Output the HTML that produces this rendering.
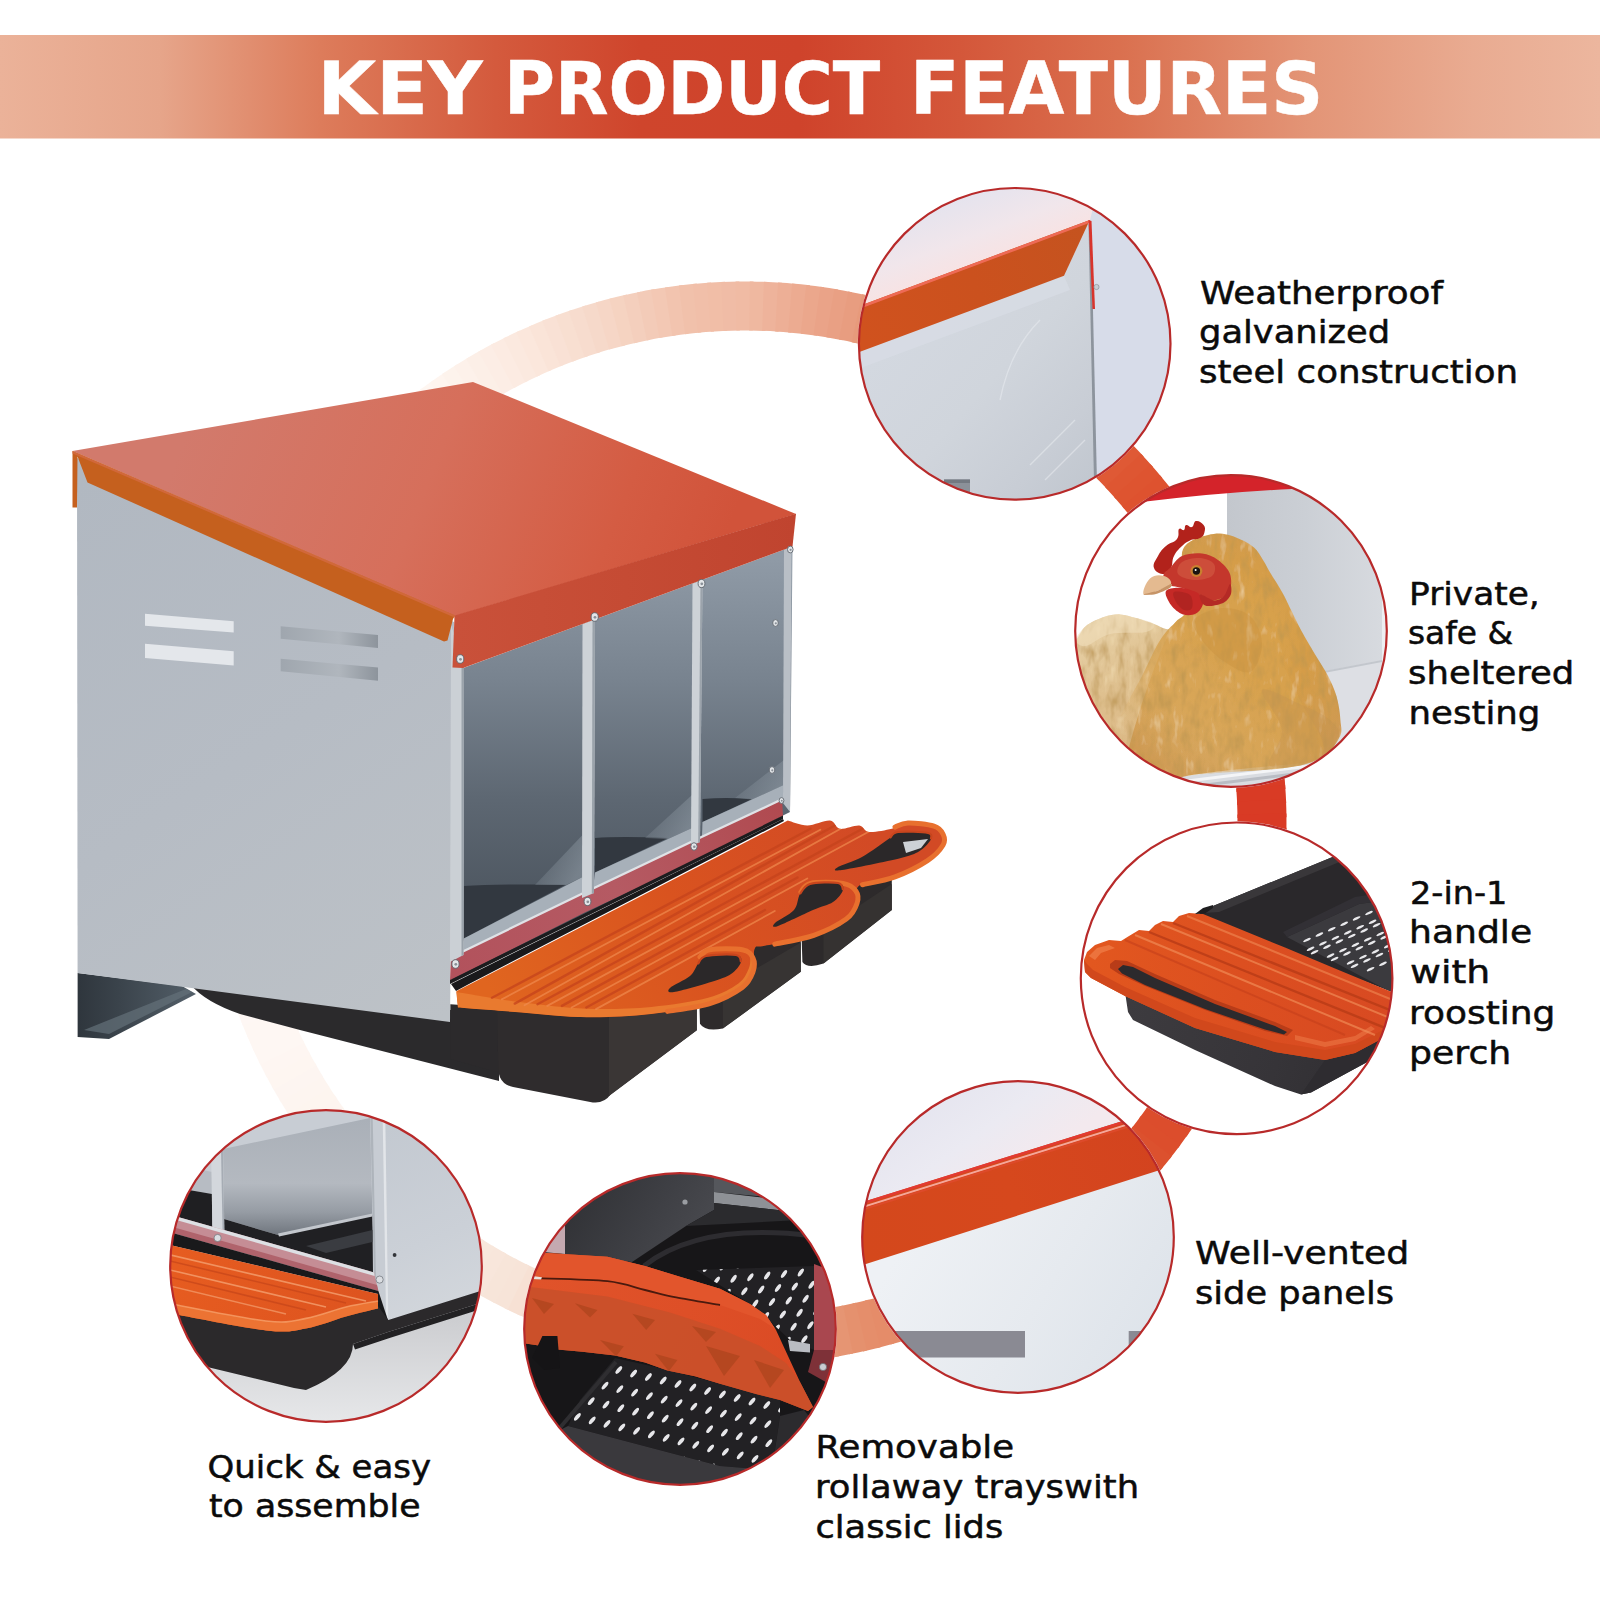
<!DOCTYPE html>
<html lang="en"><head><meta charset="utf-8"><title>Key Product Features</title>
<style>
html,body{margin:0;padding:0;background:#fff;}
body{width:1600px;height:1600px;overflow:hidden;font-family:"Liberation Sans",sans-serif;}
svg{display:block;}
.t{font-family:"Liberation Sans",sans-serif;fill:#0a0a0a;}
</style></head><body>
<svg width="1600" height="1600" viewBox="0 0 1600 1600">
<!-- 00_defs_banner.svg -->
<defs>
  <linearGradient id="gBanner" x1="0" y1="0" x2="1600" y2="0" gradientUnits="userSpaceOnUse">
    <stop offset="0" stop-color="#ebb299"/>
    <stop offset="0.1" stop-color="#e6a58a"/>
    <stop offset="0.2" stop-color="#dd7c5b"/>
    <stop offset="0.31" stop-color="#d45a3d"/>
    <stop offset="0.4" stop-color="#cf452c"/>
    <stop offset="0.5" stop-color="#cf432b"/>
    <stop offset="0.6" stop-color="#d4573a"/>
    <stop offset="0.7" stop-color="#da704f"/>
    <stop offset="0.82" stop-color="#e39577"/>
    <stop offset="0.92" stop-color="#e9ab91"/>
    <stop offset="1" stop-color="#ecb69e"/>
  </linearGradient>
</defs>
<rect x="0" y="0" width="1600" height="1600" fill="#ffffff"/>
<rect x="0" y="35" width="1600" height="103.5" fill="url(#gBanner)"/>
<g font-family="'DejaVu Sans','Liberation Sans',sans-serif" font-weight="bold" font-size="72.5" fill="#ffffff" stroke="#ffffff" stroke-width="0.5" stroke-linejoin="round">
  <text><tspan x="317.5" y="113.8" textLength="165.2" lengthAdjust="spacingAndGlyphs">KEY</tspan> <tspan x="504.0" y="113.8" textLength="376.1" lengthAdjust="spacingAndGlyphs">PRODUCT</tspan> <tspan x="910.0" y="113.8" textLength="413.3" lengthAdjust="spacingAndGlyphs">FEATURES</tspan></text>
</g>

<!-- 10_ring.svg -->
<g id="ring" fill="none" stroke-width="49">
<path d="M412.7,427.0 A517,517 0 0 1 426.0,416.2" stroke="#fff9f6"/>
<path d="M423.2,418.4 A517,517 0 0 1 436.8,407.9" stroke="#fef8f3"/>
<path d="M433.9,410.1 A517,517 0 0 1 447.7,400.0" stroke="#fef6f1"/>
<path d="M444.8,402.1 A517,517 0 0 1 458.9,392.4" stroke="#fef5ef"/>
<path d="M455.9,394.4 A517,517 0 0 1 470.3,385.0" stroke="#fdf3ec"/>
<path d="M467.2,387.0 A517,517 0 0 1 481.8,378.0" stroke="#fdf1ea"/>
<path d="M478.7,379.8 A517,517 0 0 1 493.6,371.3" stroke="#fcefe7"/>
<path d="M490.4,373.0 A517,517 0 0 1 505.5,364.8" stroke="#fcede5"/>
<path d="M502.3,366.5 A517,517 0 0 1 517.6,358.7" stroke="#fcebe2"/>
<path d="M514.3,360.3 A517,517 0 0 1 529.8,352.9" stroke="#fbe9df"/>
<path d="M526.5,354.4 A517,517 0 0 1 542.2,347.5" stroke="#fbe7dc"/>
<path d="M538.8,348.9 A517,517 0 0 1 554.7,342.3" stroke="#fae4d8"/>
<path d="M551.3,343.6 A517,517 0 0 1 567.3,337.5" stroke="#f9e1d5"/>
<path d="M563.9,338.7 A517,517 0 0 1 580.1,333.0" stroke="#f8dfd1"/>
<path d="M576.7,334.2 A517,517 0 0 1 593.0,328.9" stroke="#f7dcce"/>
<path d="M589.5,329.9 A517,517 0 0 1 606.0,325.0" stroke="#f6d9ca"/>
<path d="M602.5,326.0 A517,517 0 0 1 619.1,321.6" stroke="#f6d6c6"/>
<path d="M615.6,322.5 A517,517 0 0 1 632.2,318.5" stroke="#f5d3c1"/>
<path d="M628.7,319.3 A517,517 0 0 1 645.5,315.7" stroke="#f4cfbd"/>
<path d="M641.9,316.4 A517,517 0 0 1 658.8,313.2" stroke="#f3cbb8"/>
<path d="M655.2,313.9 A517,517 0 0 1 672.2,311.2" stroke="#f3c8b4"/>
<path d="M668.6,311.7 A517,517 0 0 1 685.6,309.4" stroke="#f2c4af"/>
<path d="M682.0,309.9 A517,517 0 0 1 699.0,308.0" stroke="#f1c1ab"/>
<path d="M695.4,308.4 A517,517 0 0 1 712.5,307.0" stroke="#f1bfa9"/>
<path d="M708.9,307.3 A517,517 0 0 1 726.1,306.3" stroke="#f1bea7"/>
<path d="M722.4,306.5 A517,517 0 0 1 739.6,306.0" stroke="#f0bca6"/>
<path d="M736.0,306.1 A517,517 0 0 1 753.1,306.1" stroke="#f0bba4"/>
<path d="M749.5,306.0 A517,517 0 0 1 766.6,306.5" stroke="#efb8a0"/>
<path d="M763.0,306.3 A517,517 0 0 1 780.2,307.2" stroke="#eeb39b"/>
<path d="M776.6,307.0 A517,517 0 0 1 793.7,308.3" stroke="#edaf96"/>
<path d="M790.1,308.0 A517,517 0 0 1 807.1,309.7" stroke="#ecab91"/>
<path d="M803.5,309.3 A517,517 0 0 1 820.5,311.5" stroke="#eba78c"/>
<path d="M817.0,311.0 A517,517 0 0 1 833.9,313.7" stroke="#eaa388"/>
<path d="M830.3,313.1 A517,517 0 0 1 847.2,316.2" stroke="#e9a084"/>
<path d="M843.6,315.5 A517,517 0 0 1 860.4,319.0" stroke="#e89d80"/>
<path d="M856.9,318.3 A517,517 0 0 1 873.6,322.2" stroke="#e79a7b"/>
<path d="M870.1,321.4 A517,517 0 0 1 886.6,325.8" stroke="#e69678"/>
<path d="M883.2,324.8 A517,517 0 0 1 899.6,329.7" stroke="#e69474"/>
<path d="M896.2,328.6 A517,517 0 0 1 912.5,333.9" stroke="#e69071"/>
<path d="M909.0,332.7 A517,517 0 0 1 925.2,338.4" stroke="#e58e6d"/>
<path d="M921.8,337.2 A517,517 0 0 1 937.8,343.3" stroke="#e58a6a"/>
<path d="M934.5,342.0 A517,517 0 0 1 950.3,348.5" stroke="#e48866"/>
<path d="M947.0,347.1 A517,517 0 0 1 962.7,354.1" stroke="#e48463"/>
<path d="M959.4,352.6 A517,517 0 0 1 974.9,359.9" stroke="#e3825f"/>
<path d="M971.6,358.3 A517,517 0 0 1 986.9,366.1" stroke="#e37e5c"/>
<path d="M983.7,364.4 A517,517 0 0 1 998.8,372.6" stroke="#e37c58"/>
<path d="M995.6,370.8 A517,517 0 0 1 1010.5,379.4" stroke="#e27855"/>
<path d="M1007.4,377.5 A517,517 0 0 1 1022.0,386.5" stroke="#e27652"/>
<path d="M1019.0,384.6 A517,517 0 0 1 1033.4,393.9" stroke="#e1734f"/>
<path d="M1030.4,391.9 A517,517 0 0 1 1044.5,401.6" stroke="#e1704c"/>
<path d="M1041.5,399.5 A517,517 0 0 1 1055.4,409.6" stroke="#e16d49"/>
<path d="M1052.5,407.4 A517,517 0 0 1 1066.1,417.8" stroke="#e06a46"/>
<path d="M1063.3,415.6 A517,517 0 0 1 1076.6,426.4" stroke="#e06743"/>
<path d="M1073.9,424.1 A517,517 0 0 1 1086.9,435.2" stroke="#e06541"/>
<path d="M1084.2,432.8 A517,517 0 0 1 1096.9,444.3" stroke="#e0623e"/>
<path d="M1094.3,441.8 A517,517 0 0 1 1106.7,453.6" stroke="#df5f3b"/>
<path d="M1104.1,451.1 A517,517 0 0 1 1116.3,463.2" stroke="#df5c38"/>
<path d="M1113.8,460.6 A517,517 0 0 1 1125.6,473.1" stroke="#df5935"/>
<path d="M1123.1,470.4 A517,517 0 0 1 1134.6,483.1" stroke="#de5632"/>
<path d="M1132.2,480.4 A517,517 0 0 1 1143.4,493.5" stroke="#de5430"/>
<path d="M1141.0,490.7 A517,517 0 0 1 1151.8,504.0" stroke="#de522f"/>
<path d="M1149.6,501.2 A517,517 0 0 1 1160.1,514.8" stroke="#de512f"/>
<path d="M1157.9,511.9 A517,517 0 0 1 1168.0,525.7" stroke="#dd502e"/>
<path d="M1165.9,522.8 A517,517 0 0 1 1175.6,536.9" stroke="#dd4f2e"/>
<path d="M1173.6,533.9 A517,517 0 0 1 1183.0,548.3" stroke="#dd4d2d"/>
<path d="M1181.0,545.2 A517,517 0 0 1 1190.0,559.8" stroke="#dd4c2c"/>
<path d="M1188.2,556.7 A517,517 0 0 1 1196.7,571.6" stroke="#dc4b2c"/>
<path d="M1195.0,568.4 A517,517 0 0 1 1203.2,583.5" stroke="#dc4a2b"/>
<path d="M1201.5,580.3 A517,517 0 0 1 1209.3,595.6" stroke="#dc482b"/>
<path d="M1207.7,592.3 A517,517 0 0 1 1215.1,607.8" stroke="#dc472a"/>
<path d="M1213.6,604.5 A517,517 0 0 1 1220.5,620.2" stroke="#dc462a"/>
<path d="M1219.1,616.8 A517,517 0 0 1 1225.7,632.7" stroke="#db4429"/>
<path d="M1224.4,629.3 A517,517 0 0 1 1230.5,645.3" stroke="#db4328"/>
<path d="M1229.3,641.9 A517,517 0 0 1 1235.0,658.1" stroke="#db4228"/>
<path d="M1233.8,654.7 A517,517 0 0 1 1239.1,671.0" stroke="#db4128"/>
<path d="M1238.1,667.5 A517,517 0 0 1 1243.0,684.0" stroke="#db4128"/>
<path d="M1242.0,680.5 A517,517 0 0 1 1246.4,697.1" stroke="#db4027"/>
<path d="M1245.5,693.6 A517,517 0 0 1 1249.5,710.2" stroke="#da4027"/>
<path d="M1248.7,706.7 A517,517 0 0 1 1252.3,723.5" stroke="#da3f27"/>
<path d="M1251.6,719.9 A517,517 0 0 1 1254.8,736.8" stroke="#da3e27"/>
<path d="M1254.1,733.2 A517,517 0 0 1 1256.8,750.2" stroke="#da3e26"/>
<path d="M1256.3,746.6 A517,517 0 0 1 1258.6,763.6" stroke="#da3d26"/>
<path d="M1258.1,760.0 A517,517 0 0 1 1260.0,777.0" stroke="#da3c26"/>
<path d="M1259.6,773.4 A517,517 0 0 1 1261.0,790.5" stroke="#d93c26"/>
<path d="M1260.7,786.9 A517,517 0 0 1 1261.7,804.1" stroke="#d93b25"/>
<path d="M1261.5,800.4 A517,517 0 0 1 1262.0,817.6" stroke="#d93b25"/>
<path d="M1261.9,814.0 A517,517 0 0 1 1261.9,831.1" stroke="#d93a25"/>
<path d="M1262.0,827.5 A517,517 0 0 1 1261.5,844.6" stroke="#d93a25"/>
<path d="M1261.7,841.0 A517,517 0 0 1 1260.8,858.2" stroke="#d93b25"/>
<path d="M1261.0,854.6 A517,517 0 0 1 1259.7,871.7" stroke="#d93b25"/>
<path d="M1260.0,868.1 A517,517 0 0 1 1258.3,885.1" stroke="#d93c25"/>
<path d="M1258.7,881.5 A517,517 0 0 1 1256.5,898.5" stroke="#d93c25"/>
<path d="M1257.0,895.0 A517,517 0 0 1 1254.3,911.9" stroke="#d93d25"/>
<path d="M1254.9,908.3 A517,517 0 0 1 1251.8,925.2" stroke="#da3d26"/>
<path d="M1252.5,921.6 A517,517 0 0 1 1249.0,938.4" stroke="#da3e26"/>
<path d="M1249.7,934.9 A517,517 0 0 1 1245.8,951.6" stroke="#da3e26"/>
<path d="M1246.6,948.1 A517,517 0 0 1 1242.2,964.6" stroke="#da3e26"/>
<path d="M1243.2,961.2 A517,517 0 0 1 1238.3,977.6" stroke="#da3f26"/>
<path d="M1239.4,974.2 A517,517 0 0 1 1234.1,990.5" stroke="#da3f26"/>
<path d="M1235.3,987.0 A517,517 0 0 1 1229.6,1003.2" stroke="#da4026"/>
<path d="M1230.8,999.8 A517,517 0 0 1 1224.7,1015.8" stroke="#da4126"/>
<path d="M1226.0,1012.5 A517,517 0 0 1 1219.5,1028.3" stroke="#da4227"/>
<path d="M1220.9,1025.0 A517,517 0 0 1 1213.9,1040.7" stroke="#da4327"/>
<path d="M1215.4,1037.4 A517,517 0 0 1 1208.1,1052.9" stroke="#db4428"/>
<path d="M1209.7,1049.6 A517,517 0 0 1 1201.9,1064.9" stroke="#db4628"/>
<path d="M1203.6,1061.7 A517,517 0 0 1 1195.4,1076.8" stroke="#db4729"/>
<path d="M1197.2,1073.6 A517,517 0 0 1 1188.6,1088.5" stroke="#db4829"/>
<path d="M1190.5,1085.4 A517,517 0 0 1 1181.5,1100.0" stroke="#db492a"/>
<path d="M1183.4,1097.0 A517,517 0 0 1 1174.1,1111.4" stroke="#dc4a2a"/>
<path d="M1176.1,1108.4 A517,517 0 0 1 1166.4,1122.5" stroke="#dc4c2b"/>
<path d="M1168.5,1119.5 A517,517 0 0 1 1158.4,1133.4" stroke="#dc4d2c"/>
<path d="M1160.6,1130.5 A517,517 0 0 1 1150.2,1144.1" stroke="#dc4e2c"/>
<path d="M1152.4,1141.3 A517,517 0 0 1 1141.6,1154.6" stroke="#dc512e"/>
<path d="M1143.9,1151.9 A517,517 0 0 1 1132.8,1164.9" stroke="#dd5330"/>
<path d="M1135.2,1162.2 A517,517 0 0 1 1123.7,1174.9" stroke="#dd5532"/>
<path d="M1126.2,1172.3 A517,517 0 0 1 1114.4,1184.7" stroke="#dd5734"/>
<path d="M1116.9,1182.1 A517,517 0 0 1 1104.8,1194.3" stroke="#de5936"/>
<path d="M1107.4,1191.8 A517,517 0 0 1 1094.9,1203.6" stroke="#de5b38"/>
<path d="M1097.6,1201.1 A517,517 0 0 1 1084.9,1212.6" stroke="#de5e3a"/>
<path d="M1087.6,1210.2 A517,517 0 0 1 1074.5,1221.4" stroke="#df603c"/>
<path d="M1077.3,1219.0 A517,517 0 0 1 1064.0,1229.8" stroke="#df623e"/>
<path d="M1066.8,1227.6 A517,517 0 0 1 1053.2,1238.1" stroke="#df6440"/>
<path d="M1056.1,1235.9 A517,517 0 0 1 1042.3,1246.0" stroke="#e06642"/>
<path d="M1045.2,1243.9 A517,517 0 0 1 1031.1,1253.6" stroke="#e06945"/>
<path d="M1034.1,1251.6 A517,517 0 0 1 1019.7,1261.0" stroke="#e06c48"/>
<path d="M1022.8,1259.0 A517,517 0 0 1 1008.2,1268.0" stroke="#e16f4b"/>
<path d="M1011.3,1266.2 A517,517 0 0 1 996.4,1274.7" stroke="#e1724e"/>
<path d="M999.6,1273.0 A517,517 0 0 1 984.5,1281.2" stroke="#e27551"/>
<path d="M987.7,1279.5 A517,517 0 0 1 972.4,1287.3" stroke="#e27855"/>
<path d="M975.7,1285.7 A517,517 0 0 1 960.2,1293.1" stroke="#e27b58"/>
<path d="M963.5,1291.6 A517,517 0 0 1 947.8,1298.5" stroke="#e37e5b"/>
<path d="M951.2,1297.1 A517,517 0 0 1 935.3,1303.7" stroke="#e3815e"/>
<path d="M938.7,1302.4 A517,517 0 0 1 922.7,1308.5" stroke="#e48461"/>
<path d="M926.1,1307.3 A517,517 0 0 1 909.9,1313.0" stroke="#e48764"/>
<path d="M913.3,1311.8 A517,517 0 0 1 897.0,1317.1" stroke="#e48966"/>
<path d="M900.5,1316.1 A517,517 0 0 1 884.0,1321.0" stroke="#e48b68"/>
<path d="M887.5,1320.0 A517,517 0 0 1 870.9,1324.4" stroke="#e58c69"/>
<path d="M874.4,1323.5 A517,517 0 0 1 857.8,1327.5" stroke="#e58e6b"/>
<path d="M861.3,1326.7 A517,517 0 0 1 844.5,1330.3" stroke="#e5916e"/>
<path d="M848.1,1329.6 A517,517 0 0 1 831.2,1332.8" stroke="#e69573"/>
<path d="M834.8,1332.1 A517,517 0 0 1 817.8,1334.8" stroke="#e79878"/>
<path d="M821.4,1334.3 A517,517 0 0 1 804.4,1336.6" stroke="#e89c7c"/>
<path d="M808.0,1336.1 A517,517 0 0 1 791.0,1338.0" stroke="#e9a081"/>
<path d="M794.6,1337.6 A517,517 0 0 1 777.5,1339.0" stroke="#e9a385"/>
<path d="M781.1,1338.7 A517,517 0 0 1 763.9,1339.7" stroke="#eaa78a"/>
<path d="M767.6,1339.5 A517,517 0 0 1 750.4,1340.0" stroke="#ebab8f"/>
<path d="M754.0,1339.9 A517,517 0 0 1 736.9,1339.9" stroke="#ecae93"/>
<path d="M740.5,1340.0 A517,517 0 0 1 723.4,1339.5" stroke="#edb298"/>
<path d="M727.0,1339.7 A517,517 0 0 1 709.8,1338.8" stroke="#edb59c"/>
<path d="M713.4,1339.0 A517,517 0 0 1 696.3,1337.7" stroke="#eeb9a0"/>
<path d="M699.9,1338.0 A517,517 0 0 1 682.9,1336.3" stroke="#efbca5"/>
<path d="M686.5,1336.7 A517,517 0 0 1 669.5,1334.5" stroke="#f0c0a9"/>
<path d="M673.0,1335.0 A517,517 0 0 1 656.1,1332.3" stroke="#f1c3ae"/>
<path d="M659.7,1332.9 A517,517 0 0 1 642.8,1329.8" stroke="#f1c7b2"/>
<path d="M646.4,1330.5 A517,517 0 0 1 629.6,1327.0" stroke="#f2cab6"/>
<path d="M633.1,1327.7 A517,517 0 0 1 616.4,1323.8" stroke="#f3cebb"/>
<path d="M619.9,1324.6 A517,517 0 0 1 603.4,1320.2" stroke="#f4d1bf"/>
<path d="M606.8,1321.2 A517,517 0 0 1 590.4,1316.3" stroke="#f4d4c2"/>
<path d="M593.8,1317.4 A517,517 0 0 1 577.5,1312.1" stroke="#f5d6c6"/>
<path d="M581.0,1313.3 A517,517 0 0 1 564.8,1307.6" stroke="#f5d8c8"/>
<path d="M568.2,1308.8 A517,517 0 0 1 552.2,1302.7" stroke="#f5dbcc"/>
<path d="M555.5,1304.0 A517,517 0 0 1 539.7,1297.5" stroke="#f6ddce"/>
<path d="M543.0,1298.9 A517,517 0 0 1 527.3,1291.9" stroke="#f6dfd2"/>
<path d="M530.6,1293.4 A517,517 0 0 1 515.1,1286.1" stroke="#f7e1d4"/>
<path d="M518.4,1287.7 A517,517 0 0 1 503.1,1279.9" stroke="#f7e4d8"/>
<path d="M506.3,1281.6 A517,517 0 0 1 491.2,1273.4" stroke="#f7e5d9"/>
<path d="M494.4,1275.2 A517,517 0 0 1 479.5,1266.6" stroke="#f8e6db"/>
<path d="M482.6,1268.5 A517,517 0 0 1 468.0,1259.5" stroke="#f8e7dc"/>
<path d="M471.0,1261.4 A517,517 0 0 1 456.6,1252.1" stroke="#f9e8de"/>
<path d="M459.6,1254.1 A517,517 0 0 1 445.5,1244.4" stroke="#f9e9df"/>
<path d="M448.5,1246.5 A517,517 0 0 1 434.6,1236.4" stroke="#f9eae1"/>
<path d="M437.5,1238.6 A517,517 0 0 1 423.9,1228.2" stroke="#faebe2"/>
<path d="M426.7,1230.4 A517,517 0 0 1 413.4,1219.6" stroke="#faece4"/>
<path d="M416.1,1221.9 A517,517 0 0 1 403.1,1210.8" stroke="#fbeee5"/>
<path d="M405.8,1213.2 A517,517 0 0 1 393.1,1201.7" stroke="#fbefe7"/>
<path d="M395.7,1204.2 A517,517 0 0 1 383.3,1192.4" stroke="#fcf0e8"/>
<path d="M385.9,1194.9 A517,517 0 0 1 373.7,1182.8" stroke="#fcf1ea"/>
<path d="M376.2,1185.4 A517,517 0 0 1 364.4,1172.9" stroke="#fcf1eb"/>
<path d="M366.9,1175.6 A517,517 0 0 1 355.4,1162.9" stroke="#fcf2eb"/>
<path d="M357.8,1165.6 A517,517 0 0 1 346.6,1152.5" stroke="#fcf2ec"/>
<path d="M349.0,1155.3 A517,517 0 0 1 338.2,1142.0" stroke="#fdf3ed"/>
<path d="M340.4,1144.8 A517,517 0 0 1 329.9,1131.2" stroke="#fdf3ed"/>
<path d="M332.1,1134.1 A517,517 0 0 1 322.0,1120.3" stroke="#fdf4ee"/>
<path d="M324.1,1123.2 A517,517 0 0 1 314.4,1109.1" stroke="#fdf4ef"/>
<path d="M316.4,1112.1 A517,517 0 0 1 307.0,1097.7" stroke="#fdf5ef"/>
<path d="M309.0,1100.8 A517,517 0 0 1 300.0,1086.2" stroke="#fdf5f0"/>
<path d="M301.8,1089.3 A517,517 0 0 1 293.3,1074.4" stroke="#fdf5f1"/>
<path d="M295.0,1077.6 A517,517 0 0 1 286.8,1062.5" stroke="#fef6f1"/>
<path d="M288.5,1065.7 A517,517 0 0 1 280.7,1050.4" stroke="#fef6f2"/>
<path d="M282.3,1053.7 A517,517 0 0 1 274.9,1038.2" stroke="#fef7f3"/>
<path d="M276.4,1041.5 A517,517 0 0 1 269.5,1025.8" stroke="#fef7f3"/>
<path d="M270.9,1029.2 A517,517 0 0 1 264.3,1013.3" stroke="#fef7f3"/>
<path d="M265.6,1016.7 A517,517 0 0 1 259.5,1000.7" stroke="#fef7f4"/>
<path d="M260.7,1004.1 A517,517 0 0 1 255.0,987.9" stroke="#fef8f4"/>
<path d="M256.2,991.3 A517,517 0 0 1 250.9,975.0" stroke="#fef8f4"/>
<path d="M251.9,978.5 A517,517 0 0 1 247.0,962.0" stroke="#fef8f4"/>
<path d="M248.0,965.5 A517,517 0 0 1 243.6,948.9" stroke="#fef8f5"/>
<path d="M244.5,952.4 A517,517 0 0 1 240.5,935.8" stroke="#fef8f5"/>
<path d="M241.3,939.3 A517,517 0 0 1 237.7,922.5" stroke="#fff9f5"/>
<path d="M238.4,926.1 A517,517 0 0 1 235.2,909.2" stroke="#fff9f5"/>
<path d="M235.9,912.8 A517,517 0 0 1 233.2,895.8" stroke="#fff9f6"/>
<path d="M233.7,899.4 A517,517 0 0 1 231.4,882.4" stroke="#fff9f6"/>
<path d="M231.9,886.0 A517,517 0 0 1 230.0,869.0" stroke="#fff9f6"/>
<path d="M230.4,872.6 A517,517 0 0 1 229.0,855.5" stroke="#fff9f6"/>
<path d="M229.3,859.1 A517,517 0 0 1 228.3,841.9" stroke="#fffaf6"/>
<path d="M228.5,845.6 A517,517 0 0 1 228.0,828.4" stroke="#fffaf7"/>
<path d="M228.1,832.0 A517,517 0 0 1 228.1,814.9" stroke="#fffaf7"/>
</g>
<!-- 20_product.svg -->
<defs>
  <linearGradient id="pRoofTop" x1="200" y1="400" x2="700" y2="600" gradientUnits="userSpaceOnUse">
    <stop offset="0" stop-color="#d27a6c"/>
    <stop offset="0.45" stop-color="#d66f5b"/>
    <stop offset="0.8" stop-color="#d45c43"/>
    <stop offset="1" stop-color="#d1533a"/>
  </linearGradient>
  <linearGradient id="pRoofFront" x1="456" y1="0" x2="795" y2="0" gradientUnits="userSpaceOnUse">
    <stop offset="0" stop-color="#c9513a"/>
    <stop offset="0.5" stop-color="#c54b34"/>
    <stop offset="1" stop-color="#c0442f"/>
  </linearGradient>
  <linearGradient id="pPanel" x1="80" y1="480" x2="440" y2="1020" gradientUnits="userSpaceOnUse">
    <stop offset="0" stop-color="#b1b8c1"/>
    <stop offset="0.5" stop-color="#b6bcc4"/>
    <stop offset="1" stop-color="#bdc2c7"/>
  </linearGradient>
  <linearGradient id="pInner" x1="0" y1="560" x2="0" y2="960" gradientUnits="userSpaceOnUse">
    <stop offset="0" stop-color="#8f9aa6"/>
    <stop offset="0.3" stop-color="#78838f"/>
    <stop offset="0.6" stop-color="#5d6772"/>
    <stop offset="0.85" stop-color="#4e5761"/>
    <stop offset="1" stop-color="#434b54"/>
  </linearGradient>
  <linearGradient id="pVentDark" x1="280" y1="0" x2="378" y2="0" gradientUnits="userSpaceOnUse">
    <stop offset="0" stop-color="#9fa6ae"/>
    <stop offset="0.6" stop-color="#b0b6bd"/>
    <stop offset="1" stop-color="#8d949c"/>
  </linearGradient>
  <linearGradient id="pLid" x1="500" y1="1010" x2="860" y2="820" gradientUnits="userSpaceOnUse">
    <stop offset="0" stop-color="#e0651f"/>
    <stop offset="0.5" stop-color="#d9531f"/>
    <stop offset="1" stop-color="#d24a25"/>
  </linearGradient>
  <linearGradient id="pLeg" x1="78" y1="0" x2="200" y2="0" gradientUnits="userSpaceOnUse">
    <stop offset="0" stop-color="#2f363d"/>
    <stop offset="0.35" stop-color="#3b444c"/>
    <stop offset="1" stop-color="#55616b"/>
  </linearGradient>
  <linearGradient id="pRail" x1="452" y1="970" x2="782" y2="810" gradientUnits="userSpaceOnUse">
    <stop offset="0" stop-color="#b2525c"/>
    <stop offset="0.5" stop-color="#b55a63"/>
    <stop offset="1" stop-color="#b04a50"/>
  </linearGradient>
  <linearGradient id="pLit" x1="0" y1="0" x2="1" y2="0.6">
    <stop offset="0" stop-color="#8d98a2" stop-opacity="0"/><stop offset="1" stop-color="#8f9aa4" stop-opacity="0.6"/>
  </linearGradient>
</defs>
<g id="product">
  <!-- shadow/left leg -->
  <polygon points="77.6,973 77.6,1037 109,1039 196,994 182,986" fill="url(#pLeg)"/>
  <polygon points="84,1030 109,1034 192,992 186,989" fill="#647079" opacity="0.7"/>
  <!-- black tray base under panel -->
  <path d="M190,984 Q205,1002 240,1014 L300,1030 L499,1081 L500,1010 L448,1010 Z" fill="#2b2a2c"/>
  <!-- side panel -->
  <polygon points="77,458 454,622 450,1022 77.6,973" fill="url(#pPanel)"/>
  <!-- vents -->
  <polygon points="145,613.7 233.7,621.2 233.7,632.5 145,625.7" fill="#e4e7eb"/>
  <polygon points="145,643.7 233.7,651.2 233.7,665.5 145,658" fill="#e4e7eb"/>
  <polygon points="280.7,626.2 378,635 378,648 280.7,638.7" fill="url(#pVentDark)"/>
  <polygon points="280.7,658.7 378,667.5 378,680.7 280.7,671.2" fill="url(#pVentDark)"/>
  <!-- front face (dark interior) -->
  <polygon points="452,640 456.5,670.5 792.5,546.5 790,812 452,982" fill="url(#pInner)"/>
  <!-- dark floors (triangles) -->
  <path d="M463.7,886 Q500,884 566,884.5 L463.7,938.5 Z" fill="#323840"/>
  <path d="M595,838 Q620,836 668,838 L595,872.5 Z" fill="#323840"/>
  <path d="M702.5,799 Q725,797 752,799 L702.5,822 Z" fill="#323840"/>
  <!-- lit lower-right of walls -->
  <polygon points="535,885 582.5,835 582.5,877 566,885" fill="url(#pLit)"/>
  <polygon points="645,838 692,795 692,828 668,839" fill="url(#pLit)"/>
  <polygon points="735,798 784,760 784,785 752,799.5" fill="url(#pLit)"/>
  <!-- sills (silver) -->
  <polygon points="463.7,938.5 582.5,877 583,893 460.6,952.5" fill="#a7b0b9"/>
  <polygon points="595,872.5 692,828 692,841.5 593,888.6" fill="#a7b0b9"/>
  <polygon points="702.5,822 783.7,785 783,799 702,836.5" fill="#a7b0b9"/>
  <!-- bottom rail -->
  <polygon points="451,957 460.6,952.5 583,893 593,888.6 689.4,842.7 702,836.5 782,799 783,816 694,861.5 583.7,913 450,980.5" fill="url(#pRail)"/>
  <polygon points="451,956 583,892 702,835.5 782,798 782,800.5 702,838 583,894.5 451,958.5" fill="#dfe2e6"/>
  <polygon points="450,980 783,815.5 783,819 450,984" fill="#1c1c1e"/>
  <!-- corner post left -->
  <polygon points="451,625 464,664 463.5,955 450,962" fill="#cbd0d5"/>
  <polygon points="461.5,658 464,664 463.5,955 461.5,956" fill="#9ba3ab"/>
  <!-- dividers -->
  <polygon points="582.5,624 595,619.5 594,893 582,898" fill="#cdd2d7"/>
  <polygon points="592.5,620.5 595,619.5 594,893 591.8,894" fill="#9ba3ab"/>
  <polygon points="692.5,583.5 702.5,580 700,842 691,846" fill="#cdd2d7"/>
  <polygon points="700.5,580.7 702.5,580 700,842 698.2,843" fill="#9ba3ab"/>
  <polygon points="784,549.5 791.5,547 790,812 783,803" fill="#b9bfc6"/>
  <!-- roof -->
  <polygon points="72.5,451 473,382 796,514 455,616" fill="url(#pRoofTop)"/>
  <polygon points="454.5,615.5 796,513.7 792.5,546.5 463,668 452.5,667.5" fill="url(#pRoofFront)"/>
  <!-- lip left side -->
  <polygon points="72.5,451 455,615.5 453,619 447.5,640.5 444,641.5 87.5,482.5 77.5,456.5 77,507.5 72.5,507.5" fill="#c5601e"/>
  <polygon points="72.5,451 455,615.5 454.5,617.5 72.5,453.5" fill="#d1683a"/>
  <!-- screws -->
  <g>
    <ellipse cx="460.2" cy="659.0" rx="3.6" ry="4.3" fill="#e3e6e9" stroke="#5f656d" stroke-width="0.9"/><circle cx="460.5" cy="659.3" r="1.4" fill="#8a9098"/>
    <ellipse cx="594.7" cy="617.0" rx="3.6" ry="4.3" fill="#e3e6e9" stroke="#5f656d" stroke-width="0.9"/><circle cx="595.0" cy="617.3" r="1.4" fill="#8a9098"/>
    <ellipse cx="701.5" cy="583.5" rx="3.4" ry="4.1" fill="#e3e6e9" stroke="#5f656d" stroke-width="0.9"/><circle cx="701.8" cy="583.8" r="1.4" fill="#8a9098"/>
    <ellipse cx="790.3" cy="549.5" rx="2.8" ry="3.4" fill="#e3e6e9" stroke="#5f656d" stroke-width="0.9"/><circle cx="790.6" cy="549.8" r="1.1" fill="#8a9098"/>
    <ellipse cx="775.5" cy="623.0" rx="2.8" ry="3.4" fill="#e3e6e9" stroke="#5f656d" stroke-width="0.9"/><circle cx="775.8" cy="623.3" r="1.1" fill="#8a9098"/>
    <ellipse cx="772.0" cy="770.0" rx="2.8" ry="3.4" fill="#e3e6e9" stroke="#5f656d" stroke-width="0.9"/><circle cx="772.3" cy="770.3" r="1.1" fill="#8a9098"/>
    <ellipse cx="455.5" cy="964.0" rx="3.6" ry="4.3" fill="#e3e6e9" stroke="#5f656d" stroke-width="0.9"/><circle cx="455.8" cy="964.3" r="1.4" fill="#8a9098"/>
    <ellipse cx="587.5" cy="901.5" rx="3.4" ry="4.1" fill="#e3e6e9" stroke="#5f656d" stroke-width="0.9"/><circle cx="587.8" cy="901.8" r="1.4" fill="#8a9098"/>
    <ellipse cx="694.0" cy="846.5" rx="3.2" ry="3.8" fill="#e3e6e9" stroke="#5f656d" stroke-width="0.9"/><circle cx="694.3" cy="846.8" r="1.3" fill="#8a9098"/>
    <ellipse cx="781.5" cy="800.5" rx="2.4" ry="2.9" fill="#e3e6e9" stroke="#5f656d" stroke-width="0.9"/><circle cx="781.8" cy="800.8" r="1.0" fill="#8a9098"/>
  </g>
  <!-- black gap between rail and lid -->
  <polygon points="451,984 783,819 784,821 469,984 456,991" fill="#19191b"/>
</g>

<!-- 21_lid.svg -->
<g id="lid">
<polygon points="450.4,1004.3 496.9,1007.5 498.5,1072.5 450.4,1058.9" fill="#2c2a2c"/>
<path d="M496.9,1004.3 L498.5,1072.5 L500.1,1077.4 Q503.4,1084.9 513.1,1087.1 L592.8,1102.4 Q604.1,1103.7 610.6,1094.6 L696.8,1030.3 L696.8,975.0 Z" fill="#2f2c2d"/>
<polygon points="609.0,1095.9 696.8,1030.3 696.8,1004.3 609.0,1014.0" fill="#3a3635"/>
<path d="M698.4,975.0 L700.0,1023.8 Q704.9,1031.9 722.8,1028.6 L800.8,971.8 L800.8,910.0 L732.5,942.5 Z" fill="#2e2b2c"/>
<polygon points="722.8,1028.6 800.8,971.8 800.8,942.5 722.8,988.0" fill="#373433"/>
<path d="M800.8,910.0 L802.4,962.0 Q807.3,969.2 823.5,963.6 L891.8,910.0 L891.8,877.5 L830.0,887.3 Z" fill="#2d2a2b"/>
<polygon points="823.5,963.6 891.8,910.0 891.8,884.0 823.5,929.5" fill="#353231"/>
<clipPath id="lidClip"><path d="M456.3,991.3 L787.8,820.6 L787.8,820.6 C791.0,821.4 800.2,825.5 807.3,825.5 C814.3,825.5 824.6,820.1 830.0,820.6 C835.4,821.2 834.9,827.9 839.8,828.8 C844.6,829.6 854.4,825.0 859.3,825.5 C864.1,826.0 863.6,831.5 869.0,832.0 C874.4,832.5 885.3,830.4 891.8,828.8 C898.3,827.1 901.0,822.8 908.0,822.3 C915.0,821.7 928.0,823.6 934.0,825.5 C940.0,827.4 942.1,830.4 943.8,833.6 C945.4,836.9 946.5,840.4 943.8,845.0 C941.0,849.6 935.6,855.8 927.5,861.3 C919.4,866.7 906.4,873.4 895.0,877.5 C883.6,881.6 865.5,881.3 859.3,885.6 C853.0,890.0 859.8,897.8 857.6,903.5 C855.5,909.2 853.6,914.3 846.3,919.8 C838.9,925.2 827.3,931.7 813.8,936.0 C800.2,940.3 774.9,943.6 765.0,945.8 C755.1,947.9 756.5,944.7 754.6,949.0 C752.7,953.3 755.7,965.3 753.6,971.8 C751.6,978.3 749.6,982.6 742.3,988.0 C734.9,993.4 724.9,999.9 709.8,1004.3 C694.6,1008.6 671.8,1011.8 651.3,1014.0 C630.7,1016.2 607.9,1017.5 586.3,1017.3 C564.6,1017.0 542.6,1014.0 521.3,1012.4 C499.9,1010.8 468.4,1008.3 457.9,1007.5 Z"/></clipPath>
<path d="M456.3,991.3 L787.8,820.6 L787.8,820.6 C791.0,821.4 800.2,825.5 807.3,825.5 C814.3,825.5 824.6,820.1 830.0,820.6 C835.4,821.2 834.9,827.9 839.8,828.8 C844.6,829.6 854.4,825.0 859.3,825.5 C864.1,826.0 863.6,831.5 869.0,832.0 C874.4,832.5 885.3,830.4 891.8,828.8 C898.3,827.1 901.0,822.8 908.0,822.3 C915.0,821.7 928.0,823.6 934.0,825.5 C940.0,827.4 942.1,830.4 943.8,833.6 C945.4,836.9 946.5,840.4 943.8,845.0 C941.0,849.6 935.6,855.8 927.5,861.3 C919.4,866.7 906.4,873.4 895.0,877.5 C883.6,881.6 865.5,881.3 859.3,885.6 C853.0,890.0 859.8,897.8 857.6,903.5 C855.5,909.2 853.6,914.3 846.3,919.8 C838.9,925.2 827.3,931.7 813.8,936.0 C800.2,940.3 774.9,943.6 765.0,945.8 C755.1,947.9 756.5,944.7 754.6,949.0 C752.7,953.3 755.7,965.3 753.6,971.8 C751.6,978.3 749.6,982.6 742.3,988.0 C734.9,993.4 724.9,999.9 709.8,1004.3 C694.6,1008.6 671.8,1011.8 651.3,1014.0 C630.7,1016.2 607.9,1017.5 586.3,1017.3 C564.6,1017.0 542.6,1014.0 521.3,1012.4 C499.9,1010.8 468.4,1008.3 457.9,1007.5 Z" fill="url(#pLid)"/>
<g clip-path="url(#lidClip)">
<path d="M457.9,1007.5 C468.4,1008.3 499.9,1010.8 521.3,1012.4 C542.6,1014.0 564.6,1017.0 586.3,1017.3 C607.9,1017.5 630.7,1016.2 651.3,1014.0 C671.8,1011.8 694.6,1008.6 709.8,1004.3 C724.9,999.9 734.9,993.4 742.3,988.0 C749.6,982.6 751.6,976.9 753.6,971.8 C755.7,966.6 754.4,959.6 754.6,957.1 L750.4,958.1 C750.1,959.8 750.8,964.3 748.8,968.5 C746.7,972.7 745.1,978.6 738.4,983.5 C731.6,988.3 722.6,993.9 708.1,997.8 C693.6,1001.7 671.6,1005.0 651.3,1006.9 C630.9,1008.7 607.9,1009.6 586.3,1008.8 C564.6,1008.0 542.9,1005.1 521.3,1002.3 C499.6,999.5 467.1,993.6 456.3,991.9 Z" fill="#e97a2f"/>
<path d="M492.0,997.8 L810.5,828.8" stroke="#c4431c" stroke-width="2.4" opacity="0.75" fill="none" stroke-linecap="round"/>
<path d="M501.8,999.4 L820.3,829.7" stroke="#f08a4e" stroke-width="1.8" opacity="0.70" fill="none" stroke-linecap="round"/>
<path d="M514.8,1003.6 L834.9,825.5" stroke="#c4431c" stroke-width="2.4" opacity="0.75" fill="none" stroke-linecap="round"/>
<path d="M524.5,1005.2 L844.6,826.5" stroke="#f08a4e" stroke-width="1.8" opacity="0.70" fill="none" stroke-linecap="round"/>
<path d="M537.5,1004.3 L862.5,828.8" stroke="#c4431c" stroke-width="2.4" opacity="0.75" fill="none" stroke-linecap="round"/>
<path d="M547.3,1005.9 L872.3,829.7" stroke="#f08a4e" stroke-width="1.8" opacity="0.70" fill="none" stroke-linecap="round"/>
<path d="M561.9,1005.9 L797.5,877.5" stroke="#c4431c" stroke-width="2.4" opacity="0.75" fill="none" stroke-linecap="round"/>
<path d="M571.6,1007.5 L807.3,878.5" stroke="#f08a4e" stroke-width="1.8" opacity="0.70" fill="none" stroke-linecap="round"/>
<path d="M586.3,1007.5 L765.0,910.0" stroke="#c4431c" stroke-width="2.4" opacity="0.75" fill="none" stroke-linecap="round"/>
<path d="M596.0,1009.1 L774.8,911.0" stroke="#f08a4e" stroke-width="1.8" opacity="0.70" fill="none" stroke-linecap="round"/>
</g>
<path d="M700.0,957.1 C701.6,955.9 702.7,950.9 709.8,949.7 C716.8,948.4 735.0,948.2 742.3,949.7 C749.5,951.1 751.2,954.4 753.0,958.1 C754.8,961.8 754.8,966.9 753.0,971.8 C751.2,976.6 749.5,982.0 742.3,987.4 C735.0,992.7 722.2,999.6 709.8,1003.6 C697.3,1007.6 674.5,1010.1 667.5,1011.4" stroke="#e8702e" stroke-width="5" fill="none" stroke-linecap="round"/>
<path d="M800.8,892.1 C802.4,890.7 803.5,884.8 810.5,883.4 C817.5,881.9 835.4,882.1 843.0,883.4 C850.6,884.7 853.7,887.8 856.0,891.2 C858.3,894.5 858.6,898.8 857.0,903.5 C855.4,908.2 853.5,913.8 846.3,919.1 C839.0,924.4 825.7,931.2 813.8,935.4 C801.8,939.5 781.3,942.7 774.8,944.1" stroke="#e8702e" stroke-width="5" fill="none" stroke-linecap="round"/>
<path d="M895.0,827.1 C897.2,826.4 901.5,823.1 908.0,822.9 C914.5,822.7 928.2,824.3 934.0,826.2 C939.9,828.0 941.6,831.1 943.1,834.3 C944.6,837.4 945.7,840.6 943.1,845.0 C940.5,849.4 935.5,855.3 927.5,860.6 C919.5,865.9 905.8,872.8 895.0,876.9 C884.2,880.9 867.9,883.4 862.5,884.7" stroke="#e8702e" stroke-width="5" fill="none" stroke-linecap="round"/>
<path d="M698.0,964.0 C700.7,960.7 699.7,957.5 706.0,956.0 C712.3,954.5 730.2,954.0 736.0,955.0 C741.8,956.0 741.8,958.8 741.0,962.0 C740.2,965.2 736.0,970.7 731.0,974.0 C726.0,977.3 720.5,979.0 711.0,982.0 C701.5,985.0 680.8,991.0 674.0,992.0 C667.2,993.0 667.3,990.7 670.0,988.0 C672.7,985.3 685.3,980.0 690.0,976.0 C694.7,972.0 695.3,967.3 698.0,964.0 Z" fill="#2b2829"/>
<path d="M800.0,894.0 C802.7,889.7 803.7,885.8 810.0,884.0 C816.3,882.2 832.5,882.0 838.0,883.0 C843.5,884.0 843.8,886.8 843.0,890.0 C842.2,893.2 838.0,898.7 833.0,902.0 C828.0,905.3 822.2,906.0 813.0,910.0 C803.8,914.0 784.3,923.8 778.0,926.0 C771.7,928.2 772.3,925.7 775.0,923.0 C777.7,920.3 789.8,914.8 794.0,910.0 C798.2,905.2 797.3,898.3 800.0,894.0 Z" fill="#2b2829"/>
<path d="M890.0,838.0 C896.0,833.8 891.7,832.8 898.0,832.0 C904.3,831.2 922.5,831.8 928.0,833.0 C933.5,834.2 932.2,836.2 931.0,839.0 C929.8,841.8 926.0,846.8 921.0,850.0 C916.0,853.2 914.2,854.7 901.0,858.0 C887.8,861.3 852.5,868.5 842.0,870.0 C831.5,871.5 834.7,869.2 838.0,867.0 C841.3,864.8 853.3,861.8 862.0,857.0 C870.7,852.2 884.0,842.2 890.0,838.0 Z" fill="#2b2829"/>
<polygon points="903.0,842.0 928.0,839.0 921.0,848.0 906.0,853.0" fill="#cdd1d6"/>
<path d="M698.0,964.0 C699.3,962.7 699.7,957.5 706.0,956.0 C712.3,954.5 730.2,954.0 736.0,955.0 C741.8,956.0 740.2,960.8 741.0,962.0" stroke="#c8451d" stroke-width="2.2" fill="none"/>
<path d="M800.0,894.0 C801.7,892.3 803.7,885.8 810.0,884.0 C816.3,882.2 832.5,882.0 838.0,883.0 C843.5,884.0 842.2,888.8 843.0,890.0" stroke="#c8451d" stroke-width="2.2" fill="none"/>
<path d="M890.0,838.0 C891.3,837.0 891.7,832.8 898.0,832.0 C904.3,831.2 922.5,831.8 928.0,833.0 C933.5,834.2 930.5,838.0 931.0,839.0" stroke="#c8451d" stroke-width="2.2" fill="none"/>
</g>
<!-- 30_circles_frame.svg -->
<defs>
  <clipPath id="clipC1"><circle cx="1014.7" cy="343.8" r="156"/></clipPath>
  <clipPath id="clipC2"><circle cx="1231" cy="631" r="156"/></clipPath>
  <clipPath id="clipC3"><circle cx="1236.6" cy="978.3" r="156"/></clipPath>
  <clipPath id="clipC4"><circle cx="1018" cy="1237" r="156"/></clipPath>
  <clipPath id="clipC5"><circle cx="680" cy="1329" r="156"/></clipPath>
  <clipPath id="clipC6"><circle cx="326" cy="1266" r="156"/></clipPath>
</defs>
<g fill="#ffffff">
  <circle cx="1014.7" cy="343.8" r="157"/><circle cx="1231" cy="631" r="157"/><circle cx="1236.6" cy="978.3" r="157"/>
  <circle cx="1018" cy="1237" r="157"/><circle cx="680" cy="1329" r="157"/><circle cx="326" cy="1266" r="157"/>
</g>

<!-- 41_c1.svg -->
<defs>
  <linearGradient id="c1bg" x1="905" y1="152" x2="950" y2="272.5" gradientUnits="userSpaceOnUse">
    <stop offset="0" stop-color="#dfe1ec"/><stop offset="0.45" stop-color="#e4e3ee"/><stop offset="0.8" stop-color="#f1e6eb"/><stop offset="1" stop-color="#f7e3e4"/>
  </linearGradient>
  <linearGradient id="c1panel" x1="900" y1="330" x2="1090" y2="500" gradientUnits="userSpaceOnUse">
    <stop offset="0" stop-color="#d3d8e0"/><stop offset="0.4" stop-color="#d0d5dc"/><stop offset="0.75" stop-color="#c8cdd5"/><stop offset="1" stop-color="#c0c6ce"/>
  </linearGradient>
  <linearGradient id="c1band" x1="860" y1="330" x2="1090" y2="240" gradientUnits="userSpaceOnUse">
    <stop offset="0" stop-color="#d0521e"/><stop offset="0.5" stop-color="#cb511e"/><stop offset="1" stop-color="#c5531f"/>
  </linearGradient>
</defs>
<g clip-path="url(#clipC1)">
  <rect x="855" y="185" width="320" height="320" fill="#d7dce9"/>
  <!-- roof top seen grazing -->
  <polygon points="850,180 1100,180 1090,220 850,310" fill="url(#c1bg)"/>
  <!-- panel -->
  <polygon points="850,354 1064,275.8 1089,222 1096,505 850,505" fill="url(#c1panel)"/>
  <polygon points="850,354 1064,275.8 1070,290 850,372" fill="#d9dde5" opacity="0.7"/>
  <!-- panel right edge -->
  <polygon points="1088.5,224 1091,224 1097.5,505 1094.5,505" fill="#8d949d"/>
  <!-- orange band -->
  <polygon points="850,309.5 1089.8,220 1064,275.8 850,355.5" fill="url(#c1band)"/>
  <polygon points="850,309.5 1089.8,220 1090.5,222.5 850,312.5" fill="#ee6a55"/>
  <!-- red vertical strip -->
  <polygon points="1088.5,220 1091.5,221 1095,309 1092.5,309" fill="#d8342c"/>
  <circle cx="1096.5" cy="287" r="2.6" fill="#c7ccd3" stroke="#8a9098" stroke-width="0.7"/>
  <!-- small dark slot -->
  <polygon points="944,479.5 970,479.5 970,505 944,505" fill="#8b9199"/>
  <polygon points="944,479.5 970,479.5 970,483 944,483" fill="#737981"/>
  <!-- scratches -->
  <g stroke="#e6e9ee" stroke-width="1.4" opacity="0.6" fill="none">
    <path d="M1030,465 L1075,420"/><path d="M1000,400 Q1010,350 1040,320"/><path d="M1045,480 L1085,440"/>
  </g>
</g>

<!-- 42_c2.svg -->
<defs>
  <linearGradient id="c2wall" x1="1227" y1="0" x2="1382" y2="0" gradientUnits="userSpaceOnUse">
    <stop offset="0" stop-color="#c3c7cd"/><stop offset="0.5" stop-color="#cbcfd5"/><stop offset="1" stop-color="#d7dadf"/>
  </linearGradient>
  <radialGradient id="c2neck" cx="1232" cy="640" r="140" gradientUnits="userSpaceOnUse">
    <stop offset="0" stop-color="#dba650"/><stop offset="0.55" stop-color="#d59d49"/><stop offset="1" stop-color="#cf9a52"/>
  </radialGradient>
  <linearGradient id="c2body" x1="1080" y1="620" x2="1180" y2="790" gradientUnits="userSpaceOnUse">
    <stop offset="0" stop-color="#e8d3aa"/><stop offset="0.35" stop-color="#dfc190"/><stop offset="1" stop-color="#d8b07a"/>
  </linearGradient>
  <linearGradient id="c2fade" x1="1215" y1="640" x2="1125" y2="740" gradientUnits="userSpaceOnUse">
    <stop offset="0" stop-color="#d7a14d" stop-opacity="1"/><stop offset="0.5" stop-color="#d9a85c" stop-opacity="0.8"/><stop offset="1" stop-color="#dcb679" stop-opacity="0"/>
  </linearGradient>
  <filter id="feather" x="-5%" y="-5%" width="110%" height="110%">
    <feTurbulence type="fractalNoise" baseFrequency="0.11 0.045" numOctaves="3" seed="11" result="n"/>
    <feColorMatrix in="n" type="matrix" values="0 0 0 0 0.50  0 0 0 0 0.30  0 0 0 0 0.08  0 0 0 -1.9 1.0" result="d"/>
    <feComposite in="d" in2="SourceGraphic" operator="in" result="dd"/>
    <feColorMatrix in="n" type="matrix" values="0 0 0 0 0.93  0 0 0 0 0.78  0 0 0 0 0.50  0 0 0 1.6 -1.0" result="l"/>
    <feComposite in="l" in2="SourceGraphic" operator="in" result="ll"/>
    <feMerge><feMergeNode in="SourceGraphic"/><feMergeNode in="dd"/><feMergeNode in="ll"/></feMerge>
  </filter>
</defs>
<g clip-path="url(#clipC2)">
  <rect x="1070" y="470" width="325" height="325" fill="#ffffff"/>
  <rect x="1227" y="480" width="156" height="200" fill="url(#c2wall)"/>
  <rect x="1382" y="480" width="12" height="300" fill="#eceef1"/>
  <polygon points="1300,676 1382,660 1382,790 1300,790" fill="#dddfe4"/>
  <polygon points="1324,671 1382,660 1382,662 1324,673" fill="#c3c7cd"/>
  <polygon points="1170,778 1316,759 1385,745 1385,795 1170,795" fill="#d9dce1"/>
  <polygon points="1175,781 1330,762 1330,765 1175,784" fill="#f4f5f7"/>
  <polygon points="1185,786 1330,768 1330,771 1185,789" fill="#b9bdc4"/>
  <path d="M1070,470 L1395,470 L1395,480 L1292,489 Q1226,492 1146,501.5 L1070,520 Z" fill="#d4232a"/>
<g filter="url(#feather)">
<path d="M1066.0,646.0 C1067.7,619.3 1072.7,643.3 1076.0,640.0 C1079.3,636.7 1081.3,629.8 1086.0,626.0 C1090.7,622.2 1098.3,618.9 1104.0,617.0 C1109.7,615.1 1114.7,614.2 1120.0,614.4 C1125.3,614.6 1130.3,616.4 1136.0,618.0 C1141.7,619.6 1149.0,622.2 1154.0,624.0 C1159.0,625.8 1161.3,627.7 1166.0,629.0 C1170.7,630.3 1174.7,626.8 1182.0,632.0 C1189.3,637.2 1198.7,645.3 1210.0,660.0 C1221.3,674.7 1254.7,700.5 1250.0,720.0 C1245.3,739.5 1202.0,763.7 1182.0,777.0 C1162.0,790.3 1149.3,796.2 1130.0,800.0 C1110.7,803.8 1076.7,825.7 1066.0,800.0 C1055.3,774.3 1064.3,672.7 1066.0,646.0 Z" fill="url(#c2body)"/>
<path d="M1174.0,624.0 C1177.2,619.3 1180.3,618.7 1183.0,616.0 C1185.7,613.3 1189.2,612.0 1190.0,608.0 C1190.8,604.0 1189.3,600.0 1188.0,592.0 C1186.7,584.0 1182.5,567.7 1182.0,560.0 C1181.5,552.3 1182.3,549.7 1185.0,546.0 C1187.7,542.3 1192.2,540.1 1198.0,538.0 C1203.8,535.9 1213.0,533.4 1220.0,533.6 C1227.0,533.8 1234.3,536.9 1240.0,539.2 C1245.7,541.5 1250.2,544.1 1254.0,547.6 C1257.8,551.1 1260.2,555.6 1263.0,560.0 C1265.8,564.4 1267.8,568.7 1271.0,574.0 C1274.2,579.3 1278.5,585.7 1282.0,592.0 C1285.5,598.3 1288.7,605.3 1292.0,612.0 C1295.3,618.7 1298.0,624.7 1302.0,632.0 C1306.0,639.3 1311.7,648.7 1316.0,656.0 C1320.3,663.3 1324.6,669.3 1328.0,676.0 C1331.4,682.7 1334.3,688.7 1336.4,696.0 C1338.5,703.3 1340.0,713.0 1340.4,720.0 C1340.8,727.0 1343.1,731.3 1339.0,738.0 C1334.9,744.7 1330.8,755.0 1316.0,760.0 C1301.2,765.0 1272.3,765.2 1250.0,768.0 C1227.7,770.8 1199.3,773.0 1182.0,777.0 C1164.7,781.0 1156.3,788.2 1146.0,792.0 C1135.7,795.8 1123.3,805.3 1120.0,800.0 C1116.7,794.7 1123.0,774.0 1126.0,760.0 C1129.0,746.0 1134.0,729.3 1138.0,716.0 C1142.0,702.7 1145.7,692.0 1150.0,680.0 C1154.3,668.0 1160.0,653.3 1164.0,644.0 C1168.0,634.7 1170.8,628.7 1174.0,624.0 Z" fill="url(#c2neck)"/>
<path d="M1174.0,624.0 C1190.7,610.7 1219.0,587.3 1240.0,600.0 C1261.0,612.7 1287.3,673.3 1300.0,700.0 C1312.7,726.7 1335.7,747.2 1316.0,760.0 C1296.3,772.8 1213.0,770.3 1182.0,777.0 C1151.0,783.7 1143.7,796.2 1130.0,800.0 C1116.3,803.8 1103.3,810.0 1100.0,800.0 C1096.7,790.0 1103.3,760.0 1110.0,740.0 C1116.7,720.0 1129.3,699.3 1140.0,680.0 C1150.7,660.7 1157.3,637.3 1174.0,624.0 Z" fill="url(#c2fade)"/>
</g>
<path d="M1262.0,690.0 C1265.0,685.7 1288.7,699.0 1300.0,704.0 C1311.3,709.0 1323.5,714.3 1330.0,720.0 C1336.5,725.7 1341.3,731.3 1339.0,738.0 C1336.7,744.7 1327.5,755.3 1316.0,760.0 C1304.5,764.7 1275.7,771.0 1270.0,766.0 C1264.3,761.0 1283.3,742.7 1282.0,730.0 C1280.7,717.3 1259.0,694.3 1262.0,690.0 Z" fill="#c2914f" opacity="0.35"/>
<path d="M1076.0,640.0 C1076.0,636.7 1081.3,629.8 1086.0,626.0 C1090.7,622.2 1098.3,618.9 1104.0,617.0 C1109.7,615.1 1114.7,614.2 1120.0,614.4 C1125.3,614.6 1130.3,616.4 1136.0,618.0 C1141.7,619.6 1152.3,621.7 1154.0,624.0 C1155.7,626.3 1153.3,630.3 1146.0,632.0 C1138.7,633.7 1120.0,631.7 1110.0,634.0 C1100.0,636.3 1091.7,645.0 1086.0,646.0 C1080.3,647.0 1076.0,643.3 1076.0,640.0 Z" fill="#f0dfbc" opacity="0.55"/>
<path d="M1194.0,620.0 C1197.3,614.7 1212.7,608.7 1222.0,608.0 C1231.3,607.3 1243.3,610.0 1250.0,616.0 C1256.7,622.0 1262.0,634.7 1262.0,644.0 C1262.0,653.3 1256.7,669.3 1250.0,672.0 C1243.3,674.7 1230.0,665.3 1222.0,660.0 C1214.0,654.7 1206.7,646.7 1202.0,640.0 C1197.3,633.3 1190.7,625.3 1194.0,620.0 Z" fill="#c9923f" opacity="0.4"/>
<path d="M1154.0,568.0 C1152.6,563.8 1155.2,561.1 1158.0,556.0 C1160.8,550.9 1161.6,550.0 1166.0,546.0 C1170.4,542.0 1174.0,543.0 1177.0,539.0 C1180.0,535.0 1177.4,531.1 1179.0,529.0 C1180.6,526.9 1182.4,530.9 1184.0,530.0 C1185.6,529.1 1184.1,525.7 1186.0,525.0 C1187.9,524.3 1189.7,527.9 1192.0,527.0 C1194.3,526.1 1193.3,521.5 1196.0,521.0 C1198.7,520.5 1201.6,522.3 1203.6,525.0 C1205.6,527.7 1205.2,529.4 1204.4,532.4 C1203.6,535.4 1203.4,536.1 1200.0,538.0 C1196.6,539.9 1194.2,538.5 1190.0,540.4 C1185.8,542.3 1185.7,542.4 1182.0,546.0 C1178.3,549.6 1176.6,550.9 1174.0,556.0 C1171.4,561.1 1173.3,563.8 1171.0,568.0 C1168.7,572.2 1168.0,574.0 1164.0,574.0 C1160.0,574.0 1155.4,572.2 1154.0,568.0 Z" fill="#b2221b"/>
<path d="M1170.0,568.0 C1173.1,564.9 1176.7,558.4 1182.0,556.0 C1187.3,553.6 1196.0,552.9 1202.0,553.6 C1208.0,554.3 1213.3,556.6 1218.0,560.0 C1222.7,563.4 1228.2,568.7 1230.0,574.0 C1231.8,579.3 1231.7,587.6 1229.0,592.0 C1226.3,596.4 1218.8,600.0 1214.0,600.4 C1209.2,600.8 1205.3,596.5 1200.0,594.4 C1194.7,592.3 1187.7,589.7 1182.0,588.0 C1176.3,586.3 1169.1,586.3 1166.0,584.0 C1162.9,581.7 1162.9,577.1 1163.6,574.4 C1164.3,571.7 1166.9,571.1 1170.0,568.0 Z" fill="#c4372c"/>
<path d="M1182.0,562.0 C1185.7,559.3 1194.7,557.7 1200.0,558.0 C1205.3,558.3 1212.0,561.0 1214.0,564.0 C1216.0,567.0 1215.3,573.3 1212.0,576.0 C1208.7,578.7 1199.7,580.3 1194.0,580.0 C1188.3,579.7 1180.0,577.0 1178.0,574.0 C1176.0,571.0 1178.3,564.7 1182.0,562.0 Z" fill="#d0523f" opacity="0.8"/>
<path d="M1166.0,591.0 C1167.8,588.2 1176.3,587.4 1182.0,588.0 C1187.7,588.6 1196.5,591.7 1200.0,594.4 C1203.5,597.1 1203.7,600.8 1203.0,604.0 C1202.3,607.2 1199.3,611.9 1196.0,613.6 C1192.7,615.3 1187.2,615.8 1183.0,614.4 C1178.8,613.0 1173.8,608.9 1171.0,605.0 C1168.2,601.1 1164.2,593.8 1166.0,591.0 Z" fill="#c52926"/>
<path d="M1200.0,594.4 C1201.8,593.8 1210.0,600.1 1214.0,600.4 C1218.0,600.7 1221.3,598.7 1224.0,596.0 C1226.7,593.3 1228.8,584.3 1230.0,584.0 C1231.2,583.7 1232.0,590.9 1231.0,594.0 C1230.0,597.1 1227.5,600.4 1224.0,602.4 C1220.5,604.4 1213.5,605.7 1210.0,606.0 C1206.5,606.3 1204.7,605.9 1203.0,604.0 C1201.3,602.1 1198.2,595.0 1200.0,594.4 Z" fill="#b42a25"/>
<path d="M1174.0,592.0 C1176.3,590.8 1187.0,592.3 1190.0,595.0 C1193.0,597.7 1193.0,605.5 1192.0,608.0 C1191.0,610.5 1186.7,611.0 1184.0,610.0 C1181.3,609.0 1177.7,605.0 1176.0,602.0 C1174.3,599.0 1171.7,593.2 1174.0,592.0 Z" fill="#9e1f1c" opacity="0.5"/>
<path d="M1143.6,594.4 C1142.0,592.0 1145.9,582.1 1150.0,578.4 C1154.1,574.7 1159.8,574.9 1164.0,576.0 C1168.2,577.1 1172.2,581.1 1171.0,584.0 C1169.8,586.9 1163.5,588.3 1158.0,590.4 C1152.5,592.5 1145.2,596.8 1143.6,594.4 Z" fill="#e4ba90"/>
<path d="M1143.6,594.4 C1143.9,593.8 1153.4,592.1 1158.0,590.4 C1162.6,588.7 1169.1,584.4 1171.0,584.0 C1172.9,583.6 1172.1,586.3 1169.6,588.0 C1167.1,589.7 1160.3,592.9 1156.0,594.0 C1151.7,595.1 1143.3,595.0 1143.6,594.4 Z" fill="#c69467"/>
<circle cx="1196.4" cy="571.0" r="6" fill="#c9802f"/><circle cx="1196.4" cy="571.0" r="3.7" fill="#1c1411"/><circle cx="1195.6" cy="570.1" r="1" fill="#fff"/>
</g>
<!-- 43_c3.svg -->
<defs>
  <linearGradient id="c3lid" x1="1090" y1="960" x2="1390" y2="1000" gradientUnits="userSpaceOnUse">
    <stop offset="0" stop-color="#e2571f"/><stop offset="0.5" stop-color="#dc4f20"/><stop offset="1" stop-color="#d84a22"/>
  </linearGradient>
  <linearGradient id="c3tray" x1="1130" y1="1000" x2="1380" y2="1090" gradientUnits="userSpaceOnUse">
    <stop offset="0" stop-color="#3d3b3f"/><stop offset="0.6" stop-color="#363438"/><stop offset="1" stop-color="#2f2d31"/>
  </linearGradient>
</defs>
<g clip-path="url(#clipC3)">
  <rect x="1075" y="815" width="325" height="325" fill="#ffffff"/>
<polygon points="1195.0,916.0 1213.0,906.0 1335.0,856.0 1415.0,820.0 1415.0,1000.0 1387.0,990.0" fill="#2a282b"/>
<polygon points="1203.0,913.0 1213.0,906.0 1335.0,856.0 1415.0,822.0 1415.0,829.0 1337.0,863.0 1219.0,912.0" fill="#39373a"/>
<polygon points="1287.0,937.0 1359.0,904.0 1415.0,896.0 1415.0,1000.0 1387.0,990.0" fill="#3b3a3e"/>
<polygon points="1287.0,937.0 1359.0,904.0 1415.0,896.0 1415.0,888.0 1355.0,897.0 1283.0,932.0" fill="#323035"/>
<ellipse cx="1307.0" cy="940.0" rx="4.2" ry="1.2" transform="rotate(-26 1307.0 940.0)" fill="#e9e9ec"/>
<ellipse cx="1319.4" cy="934.6" rx="4.2" ry="1.2" transform="rotate(-26 1319.4 934.6)" fill="#e9e9ec"/>
<ellipse cx="1331.8" cy="929.2" rx="4.2" ry="1.2" transform="rotate(-26 1331.8 929.2)" fill="#e9e9ec"/>
<ellipse cx="1344.2" cy="923.8" rx="4.2" ry="1.2" transform="rotate(-26 1344.2 923.8)" fill="#e9e9ec"/>
<ellipse cx="1356.6" cy="918.4" rx="4.2" ry="1.2" transform="rotate(-26 1356.6 918.4)" fill="#e9e9ec"/>
<ellipse cx="1369.0" cy="913.0" rx="4.2" ry="1.2" transform="rotate(-26 1369.0 913.0)" fill="#e9e9ec"/>
<ellipse cx="1381.4" cy="907.6" rx="4.2" ry="1.2" transform="rotate(-26 1381.4 907.6)" fill="#e9e9ec"/>
<ellipse cx="1310.6" cy="948.8" rx="4.2" ry="1.2" transform="rotate(-26 1310.6 948.8)" fill="#e9e9ec"/>
<ellipse cx="1323.0" cy="943.4" rx="4.2" ry="1.2" transform="rotate(-26 1323.0 943.4)" fill="#e9e9ec"/>
<ellipse cx="1335.4" cy="938.0" rx="4.2" ry="1.2" transform="rotate(-26 1335.4 938.0)" fill="#e9e9ec"/>
<ellipse cx="1347.8" cy="932.6" rx="4.2" ry="1.2" transform="rotate(-26 1347.8 932.6)" fill="#e9e9ec"/>
<ellipse cx="1360.2" cy="927.2" rx="4.2" ry="1.2" transform="rotate(-26 1360.2 927.2)" fill="#e9e9ec"/>
<ellipse cx="1372.6" cy="921.8" rx="4.2" ry="1.2" transform="rotate(-26 1372.6 921.8)" fill="#e9e9ec"/>
<ellipse cx="1385.0" cy="916.4" rx="4.2" ry="1.2" transform="rotate(-26 1385.0 916.4)" fill="#e9e9ec"/>
<ellipse cx="1397.4" cy="911.0" rx="4.2" ry="1.2" transform="rotate(-26 1397.4 911.0)" fill="#e9e9ec"/>
<ellipse cx="1409.8" cy="905.6" rx="4.2" ry="1.2" transform="rotate(-26 1409.8 905.6)" fill="#e9e9ec"/>
<ellipse cx="1422.2" cy="900.2" rx="4.2" ry="1.2" transform="rotate(-26 1422.2 900.2)" fill="#e9e9ec"/>
<ellipse cx="1314.6" cy="952.2" rx="4.2" ry="1.2" transform="rotate(-26 1314.6 952.2)" fill="#e9e9ec"/>
<ellipse cx="1327.0" cy="946.8" rx="4.2" ry="1.2" transform="rotate(-26 1327.0 946.8)" fill="#e9e9ec"/>
<ellipse cx="1339.4" cy="941.4" rx="4.2" ry="1.2" transform="rotate(-26 1339.4 941.4)" fill="#e9e9ec"/>
<ellipse cx="1351.8" cy="936.0" rx="4.2" ry="1.2" transform="rotate(-26 1351.8 936.0)" fill="#e9e9ec"/>
<ellipse cx="1364.2" cy="930.6" rx="4.2" ry="1.2" transform="rotate(-26 1364.2 930.6)" fill="#e9e9ec"/>
<ellipse cx="1376.6" cy="925.2" rx="4.2" ry="1.2" transform="rotate(-26 1376.6 925.2)" fill="#e9e9ec"/>
<ellipse cx="1389.0" cy="919.8" rx="4.2" ry="1.2" transform="rotate(-26 1389.0 919.8)" fill="#e9e9ec"/>
<ellipse cx="1401.4" cy="914.4" rx="4.2" ry="1.2" transform="rotate(-26 1401.4 914.4)" fill="#e9e9ec"/>
<ellipse cx="1413.8" cy="909.0" rx="4.2" ry="1.2" transform="rotate(-26 1413.8 909.0)" fill="#e9e9ec"/>
<ellipse cx="1330.6" cy="955.6" rx="4.2" ry="1.2" transform="rotate(-26 1330.6 955.6)" fill="#e9e9ec"/>
<ellipse cx="1343.0" cy="950.2" rx="4.2" ry="1.2" transform="rotate(-26 1343.0 950.2)" fill="#e9e9ec"/>
<ellipse cx="1355.4" cy="944.8" rx="4.2" ry="1.2" transform="rotate(-26 1355.4 944.8)" fill="#e9e9ec"/>
<ellipse cx="1367.8" cy="939.4" rx="4.2" ry="1.2" transform="rotate(-26 1367.8 939.4)" fill="#e9e9ec"/>
<ellipse cx="1380.2" cy="934.0" rx="4.2" ry="1.2" transform="rotate(-26 1380.2 934.0)" fill="#e9e9ec"/>
<ellipse cx="1392.6" cy="928.6" rx="4.2" ry="1.2" transform="rotate(-26 1392.6 928.6)" fill="#e9e9ec"/>
<ellipse cx="1405.0" cy="923.2" rx="4.2" ry="1.2" transform="rotate(-26 1405.0 923.2)" fill="#e9e9ec"/>
<ellipse cx="1417.4" cy="917.8" rx="4.2" ry="1.2" transform="rotate(-26 1417.4 917.8)" fill="#e9e9ec"/>
<ellipse cx="1334.6" cy="959.0" rx="4.2" ry="1.2" transform="rotate(-26 1334.6 959.0)" fill="#e9e9ec"/>
<ellipse cx="1347.0" cy="953.6" rx="4.2" ry="1.2" transform="rotate(-26 1347.0 953.6)" fill="#e9e9ec"/>
<ellipse cx="1359.4" cy="948.2" rx="4.2" ry="1.2" transform="rotate(-26 1359.4 948.2)" fill="#e9e9ec"/>
<ellipse cx="1371.8" cy="942.8" rx="4.2" ry="1.2" transform="rotate(-26 1371.8 942.8)" fill="#e9e9ec"/>
<ellipse cx="1384.2" cy="937.4" rx="4.2" ry="1.2" transform="rotate(-26 1384.2 937.4)" fill="#e9e9ec"/>
<ellipse cx="1396.6" cy="932.0" rx="4.2" ry="1.2" transform="rotate(-26 1396.6 932.0)" fill="#e9e9ec"/>
<ellipse cx="1409.0" cy="926.6" rx="4.2" ry="1.2" transform="rotate(-26 1409.0 926.6)" fill="#e9e9ec"/>
<ellipse cx="1350.6" cy="962.4" rx="4.2" ry="1.2" transform="rotate(-26 1350.6 962.4)" fill="#e9e9ec"/>
<ellipse cx="1363.0" cy="957.0" rx="4.2" ry="1.2" transform="rotate(-26 1363.0 957.0)" fill="#e9e9ec"/>
<ellipse cx="1375.4" cy="951.6" rx="4.2" ry="1.2" transform="rotate(-26 1375.4 951.6)" fill="#e9e9ec"/>
<ellipse cx="1387.8" cy="946.2" rx="4.2" ry="1.2" transform="rotate(-26 1387.8 946.2)" fill="#e9e9ec"/>
<ellipse cx="1400.2" cy="940.8" rx="4.2" ry="1.2" transform="rotate(-26 1400.2 940.8)" fill="#e9e9ec"/>
<ellipse cx="1412.6" cy="935.4" rx="4.2" ry="1.2" transform="rotate(-26 1412.6 935.4)" fill="#e9e9ec"/>
<ellipse cx="1354.6" cy="965.8" rx="4.2" ry="1.2" transform="rotate(-26 1354.6 965.8)" fill="#e9e9ec"/>
<ellipse cx="1367.0" cy="960.4" rx="4.2" ry="1.2" transform="rotate(-26 1367.0 960.4)" fill="#e9e9ec"/>
<ellipse cx="1379.4" cy="955.0" rx="4.2" ry="1.2" transform="rotate(-26 1379.4 955.0)" fill="#e9e9ec"/>
<ellipse cx="1391.8" cy="949.6" rx="4.2" ry="1.2" transform="rotate(-26 1391.8 949.6)" fill="#e9e9ec"/>
<ellipse cx="1404.2" cy="944.2" rx="4.2" ry="1.2" transform="rotate(-26 1404.2 944.2)" fill="#e9e9ec"/>
<ellipse cx="1370.6" cy="969.2" rx="4.2" ry="1.2" transform="rotate(-26 1370.6 969.2)" fill="#e9e9ec"/>
<ellipse cx="1383.0" cy="963.8" rx="4.2" ry="1.2" transform="rotate(-26 1383.0 963.8)" fill="#e9e9ec"/>
<ellipse cx="1395.4" cy="958.4" rx="4.2" ry="1.2" transform="rotate(-26 1395.4 958.4)" fill="#e9e9ec"/>
<ellipse cx="1407.8" cy="953.0" rx="4.2" ry="1.2" transform="rotate(-26 1407.8 953.0)" fill="#e9e9ec"/>
<polygon points="1125.0,992.0 1128.0,1012.0 1133.0,1020.0 1195.0,1050.0 1275.0,1086.0 1301.0,1094.4 1311.0,1092.4 1415.0,1036.0 1415.0,1000.0 1195.0,1000.0" fill="url(#c3tray)"/>
<polygon points="1301.0,1094.4 1311.0,1092.4 1415.0,1036.0 1415.0,1020.0 1355.0,1053.0 1325.0,1060.0" fill="#2e2c30"/>
<polygon points="1084.0,960.0 1087.0,952.0 1095.0,945.0 1109.0,940.0 1121.0,941.0 1129.0,936.0 1139.0,930.0 1149.0,931.0 1155.0,925.0 1163.0,921.0 1173.0,922.0 1179.0,916.0 1189.0,913.0 1203.0,914.0 1285.0,947.6 1335.0,968.4 1415.0,1001.6 1415.0,1020.0 1387.0,1036.0 1355.0,1053.0 1325.0,1060.0 1275.0,1052.0 1195.0,1028.0 1125.0,996.0 1091.0,978.0 1085.0,972.0" fill="url(#c3lid)"/>
<polygon points="1084.0,960.0 1085.0,972.0 1091.0,978.0 1125.0,996.0 1195.0,1028.0 1275.0,1052.0 1325.0,1060.0 1355.0,1053.0 1387.0,1036.0 1415.0,1020.0 1415.0,1012.0 1387.0,1028.0 1355.0,1044.0 1325.0,1050.0 1275.0,1042.0 1195.0,1018.0 1125.0,987.0 1093.0,970.0 1087.0,964.0" fill="#d1481c"/>
<polygon points="1089.0,956.0 1097.0,948.0 1109.0,945.0 1115.0,948.0 1101.0,953.0 1095.0,960.0" fill="#ef7a45" opacity="0.8"/>
<polygon points="1295.0,1035.0 1325.0,1042.0 1355.0,1036.0 1371.0,1026.0 1375.0,1029.0 1355.0,1041.0 1325.0,1047.0 1295.0,1040.0" fill="#ee7b48" opacity="0.55"/>
<path d="M1149.0,932.0 L1395.0,1032.0" stroke="#b83b17" stroke-width="2.4" opacity="0.80" fill="none"/>
<path d="M1173.0,923.0 L1405.0,1016.0" stroke="#b83b17" stroke-width="2.4" opacity="0.80" fill="none"/>
<path d="M1135.0,935.0 L1375.0,1035.0" stroke="#f08a55" stroke-width="2.0" opacity="0.70" fill="none"/>
<path d="M1161.0,924.0 L1395.0,1020.0" stroke="#f08a55" stroke-width="2.0" opacity="0.70" fill="none"/>
<path d="M1187.0,916.0 L1405.0,1005.0" stroke="#f08a55" stroke-width="2.0" opacity="0.60" fill="none"/>
<path d="M1125.0,940.0 L1345.0,1035.0" stroke="#c4401a" stroke-width="2.0" opacity="0.60" fill="none"/>
<polygon points="1110.0,964.0 1115.0,960.0 1127.0,961.0 1155.0,974.0 1215.0,1000.0 1275.0,1022.0 1293.0,1030.0 1287.0,1036.0 1265.0,1031.0 1205.0,1010.0 1145.0,986.0 1119.0,974.0 1110.0,968.0" fill="#b83c18"/>
<polygon points="1118.0,969.0 1123.0,965.0 1133.0,967.0 1155.0,978.0 1215.0,1004.0 1275.0,1026.0 1287.0,1032.0 1284.0,1034.4 1265.0,1029.6 1205.0,1009.0 1145.0,985.0 1122.0,973.6" fill="#2c2a2d"/>
<polygon points="1195.0,914.0 1203.0,908.0 1213.0,905.0 1213.0,908.0 1205.0,913.6" fill="#1f1e20"/>
</g>
<!-- 44_c4.svg -->
<defs>
  <linearGradient id="c4top" x1="900" y1="1090" x2="980" y2="1200" gradientUnits="userSpaceOnUse">
    <stop offset="0" stop-color="#e3e3ee"/><stop offset="0.6" stop-color="#ebeaf2"/><stop offset="1" stop-color="#f3e9ee"/>
  </linearGradient>
  <linearGradient id="c4panel" x1="900" y1="1250" x2="1150" y2="1400" gradientUnits="userSpaceOnUse">
    <stop offset="0" stop-color="#eef1f5"/><stop offset="0.5" stop-color="#e6eaef"/><stop offset="1" stop-color="#dce2e9"/>
  </linearGradient>
  <linearGradient id="c4band" x1="862" y1="1240" x2="1160" y2="1140" gradientUnits="userSpaceOnUse">
    <stop offset="0" stop-color="#d4481c"/><stop offset="0.5" stop-color="#d6481d"/><stop offset="1" stop-color="#d3431f"/>
  </linearGradient>
</defs>
<g clip-path="url(#clipC4)">
  <rect x="855" y="1075" width="330" height="330" fill="url(#c4panel)"/>
  <polygon points="855,1075 1185,1075 1185,1100 855,1205" fill="url(#c4top)"/>
  <!-- band -->
  <polygon points="855,1204.5 1185,1101.5 1185,1162 855,1267.5" fill="url(#c4band)"/>
  <polygon points="855,1204.5 1185,1101.5 1185,1104 855,1207" fill="#e23a32"/>
  <polygon points="855,1208.5 1185,1105.5 1185,1107.5 855,1210.5" fill="#f5a79a"/>
  <polygon points="855,1211 1185,1108 1185,1110 855,1213" fill="#dd4a2a"/>
  <!-- slots -->
  <rect x="895" y="1331" width="130" height="26.5" fill="#8a8a93"/>
  <rect x="1128.7" y="1331" width="60" height="26.5" fill="#8a8a93"/>
</g>

<!-- 45_c5.svg -->
<defs>
  <linearGradient id="c5wall" x1="570" y1="1180" x2="700" y2="1260" gradientUnits="userSpaceOnUse">
    <stop offset="0" stop-color="#2f3034"/><stop offset="0.6" stop-color="#3f4045"/><stop offset="1" stop-color="#4a4b50"/>
  </linearGradient>
  <linearGradient id="c5lid" x1="540" y1="1270" x2="810" y2="1400" gradientUnits="userSpaceOnUse">
    <stop offset="0" stop-color="#e0532a"/><stop offset="0.5" stop-color="#de4f27"/><stop offset="1" stop-color="#da4a24"/>
  </linearGradient>
  <clipPath id="c5floorA"><polygon points="696.0,1270.0 814.0,1266.0 814.0,1350.0 790.0,1340.0 756.0,1308.0"/></clipPath>
  <clipPath id="c5floorB"><polygon points="615.0,1358.0 660.0,1368.0 720.0,1383.8 780.0,1400.0 780.0,1416.0 772.0,1470.0 720.0,1466.0 568.0,1426.0 580.0,1400.0"/></clipPath>
</defs>
<g clip-path="url(#clipC5)">
<rect x="520" y="1170" width="325" height="325" fill="#171618"/>
<polygon points="565.0,1170.0 714.0,1170.0 714.0,1210.0 686.0,1226.0 632.0,1262.0 565.0,1254.0" fill="url(#c5wall)"/>
<polygon points="520.0,1210.0 565.0,1216.0 565.0,1254.0 520.0,1250.0" fill="#c4a9b0"/>
<polygon points="714.0,1170.0 800.0,1170.0 800.0,1200.0 714.0,1192.0" fill="#55575c"/>
<polygon points="714.0,1192.0 800.0,1202.0 804.0,1213.0 714.0,1203.0" fill="#8e9196"/>
<polygon points="714.0,1203.0 804.0,1213.0 820.0,1236.0 800.0,1220.0 686.0,1226.0 714.0,1210.0" fill="#2b2b2e"/>
<circle cx="685.0" cy="1202.0" r="2.6" fill="#9a9da2"/>
<path d="M644.0,1266.0 Q700.0,1222.0 814.0,1236.0" stroke="#2d2c30" stroke-width="5" fill="none"/>
<polygon points="696.0,1270.0 814.0,1266.0 814.0,1350.0 790.0,1340.0 756.0,1308.0" fill="#222124"/>
<polygon points="615.0,1358.0 660.0,1368.0 720.0,1383.8 780.0,1400.0 780.0,1416.0 772.0,1470.0 720.0,1466.0 568.0,1426.0 580.0,1400.0" fill="#222124"/>
<g clip-path="url(#c5floorB)" fill="#e6e6e9">
<ellipse cx="601.0" cy="1309.2" rx="4.7" ry="1.9" transform="rotate(-50 601.0 1309.2)"/>
<ellipse cx="615.8" cy="1312.7" rx="4.7" ry="1.9" transform="rotate(-50 615.8 1312.7)"/>
<ellipse cx="630.6" cy="1316.2" rx="4.7" ry="1.9" transform="rotate(-50 630.6 1316.2)"/>
<ellipse cx="645.4" cy="1319.7" rx="4.7" ry="1.9" transform="rotate(-50 645.4 1319.7)"/>
<ellipse cx="660.2" cy="1323.2" rx="4.7" ry="1.9" transform="rotate(-50 660.2 1323.2)"/>
<ellipse cx="675.0" cy="1326.7" rx="4.7" ry="1.9" transform="rotate(-50 675.0 1326.7)"/>
<ellipse cx="689.8" cy="1330.2" rx="4.7" ry="1.9" transform="rotate(-50 689.8 1330.2)"/>
<ellipse cx="704.6" cy="1333.7" rx="4.7" ry="1.9" transform="rotate(-50 704.6 1333.7)"/>
<ellipse cx="719.4" cy="1337.2" rx="4.7" ry="1.9" transform="rotate(-50 719.4 1337.2)"/>
<ellipse cx="734.2" cy="1340.7" rx="4.7" ry="1.9" transform="rotate(-50 734.2 1340.7)"/>
<ellipse cx="749.0" cy="1344.2" rx="4.7" ry="1.9" transform="rotate(-50 749.0 1344.2)"/>
<ellipse cx="763.8" cy="1347.7" rx="4.7" ry="1.9" transform="rotate(-50 763.8 1347.7)"/>
<ellipse cx="778.6" cy="1351.2" rx="4.7" ry="1.9" transform="rotate(-50 778.6 1351.2)"/>
<ellipse cx="793.4" cy="1354.7" rx="4.7" ry="1.9" transform="rotate(-50 793.4 1354.7)"/>
<ellipse cx="808.2" cy="1358.2" rx="4.7" ry="1.9" transform="rotate(-50 808.2 1358.2)"/>
<ellipse cx="823.0" cy="1361.7" rx="4.7" ry="1.9" transform="rotate(-50 823.0 1361.7)"/>
<ellipse cx="837.8" cy="1365.2" rx="4.7" ry="1.9" transform="rotate(-50 837.8 1365.2)"/>
<ellipse cx="852.6" cy="1368.7" rx="4.7" ry="1.9" transform="rotate(-50 852.6 1368.7)"/>
<ellipse cx="867.4" cy="1372.2" rx="4.7" ry="1.9" transform="rotate(-50 867.4 1372.2)"/>
<ellipse cx="882.2" cy="1375.7" rx="4.7" ry="1.9" transform="rotate(-50 882.2 1375.7)"/>
<ellipse cx="587.2" cy="1324.8" rx="4.7" ry="1.9" transform="rotate(-50 587.2 1324.8)"/>
<ellipse cx="602.0" cy="1328.3" rx="4.7" ry="1.9" transform="rotate(-50 602.0 1328.3)"/>
<ellipse cx="616.8" cy="1331.8" rx="4.7" ry="1.9" transform="rotate(-50 616.8 1331.8)"/>
<ellipse cx="631.6" cy="1335.3" rx="4.7" ry="1.9" transform="rotate(-50 631.6 1335.3)"/>
<ellipse cx="646.4" cy="1338.8" rx="4.7" ry="1.9" transform="rotate(-50 646.4 1338.8)"/>
<ellipse cx="661.2" cy="1342.3" rx="4.7" ry="1.9" transform="rotate(-50 661.2 1342.3)"/>
<ellipse cx="676.0" cy="1345.8" rx="4.7" ry="1.9" transform="rotate(-50 676.0 1345.8)"/>
<ellipse cx="690.8" cy="1349.3" rx="4.7" ry="1.9" transform="rotate(-50 690.8 1349.3)"/>
<ellipse cx="705.6" cy="1352.8" rx="4.7" ry="1.9" transform="rotate(-50 705.6 1352.8)"/>
<ellipse cx="720.4" cy="1356.3" rx="4.7" ry="1.9" transform="rotate(-50 720.4 1356.3)"/>
<ellipse cx="735.2" cy="1359.8" rx="4.7" ry="1.9" transform="rotate(-50 735.2 1359.8)"/>
<ellipse cx="750.0" cy="1363.3" rx="4.7" ry="1.9" transform="rotate(-50 750.0 1363.3)"/>
<ellipse cx="764.8" cy="1366.8" rx="4.7" ry="1.9" transform="rotate(-50 764.8 1366.8)"/>
<ellipse cx="779.6" cy="1370.3" rx="4.7" ry="1.9" transform="rotate(-50 779.6 1370.3)"/>
<ellipse cx="794.4" cy="1373.8" rx="4.7" ry="1.9" transform="rotate(-50 794.4 1373.8)"/>
<ellipse cx="809.2" cy="1377.3" rx="4.7" ry="1.9" transform="rotate(-50 809.2 1377.3)"/>
<ellipse cx="824.0" cy="1380.8" rx="4.7" ry="1.9" transform="rotate(-50 824.0 1380.8)"/>
<ellipse cx="838.8" cy="1384.3" rx="4.7" ry="1.9" transform="rotate(-50 838.8 1384.3)"/>
<ellipse cx="853.6" cy="1387.8" rx="4.7" ry="1.9" transform="rotate(-50 853.6 1387.8)"/>
<ellipse cx="868.4" cy="1391.3" rx="4.7" ry="1.9" transform="rotate(-50 868.4 1391.3)"/>
<ellipse cx="573.4" cy="1340.4" rx="4.7" ry="1.9" transform="rotate(-50 573.4 1340.4)"/>
<ellipse cx="588.2" cy="1343.9" rx="4.7" ry="1.9" transform="rotate(-50 588.2 1343.9)"/>
<ellipse cx="603.0" cy="1347.4" rx="4.7" ry="1.9" transform="rotate(-50 603.0 1347.4)"/>
<ellipse cx="617.8" cy="1350.9" rx="4.7" ry="1.9" transform="rotate(-50 617.8 1350.9)"/>
<ellipse cx="632.6" cy="1354.4" rx="4.7" ry="1.9" transform="rotate(-50 632.6 1354.4)"/>
<ellipse cx="647.4" cy="1357.9" rx="4.7" ry="1.9" transform="rotate(-50 647.4 1357.9)"/>
<ellipse cx="662.2" cy="1361.4" rx="4.7" ry="1.9" transform="rotate(-50 662.2 1361.4)"/>
<ellipse cx="677.0" cy="1364.9" rx="4.7" ry="1.9" transform="rotate(-50 677.0 1364.9)"/>
<ellipse cx="691.8" cy="1368.4" rx="4.7" ry="1.9" transform="rotate(-50 691.8 1368.4)"/>
<ellipse cx="706.6" cy="1371.9" rx="4.7" ry="1.9" transform="rotate(-50 706.6 1371.9)"/>
<ellipse cx="721.4" cy="1375.4" rx="4.7" ry="1.9" transform="rotate(-50 721.4 1375.4)"/>
<ellipse cx="736.2" cy="1378.9" rx="4.7" ry="1.9" transform="rotate(-50 736.2 1378.9)"/>
<ellipse cx="751.0" cy="1382.4" rx="4.7" ry="1.9" transform="rotate(-50 751.0 1382.4)"/>
<ellipse cx="765.8" cy="1385.9" rx="4.7" ry="1.9" transform="rotate(-50 765.8 1385.9)"/>
<ellipse cx="780.6" cy="1389.4" rx="4.7" ry="1.9" transform="rotate(-50 780.6 1389.4)"/>
<ellipse cx="795.4" cy="1392.9" rx="4.7" ry="1.9" transform="rotate(-50 795.4 1392.9)"/>
<ellipse cx="810.2" cy="1396.4" rx="4.7" ry="1.9" transform="rotate(-50 810.2 1396.4)"/>
<ellipse cx="825.0" cy="1399.9" rx="4.7" ry="1.9" transform="rotate(-50 825.0 1399.9)"/>
<ellipse cx="839.8" cy="1403.4" rx="4.7" ry="1.9" transform="rotate(-50 839.8 1403.4)"/>
<ellipse cx="854.6" cy="1406.9" rx="4.7" ry="1.9" transform="rotate(-50 854.6 1406.9)"/>
<ellipse cx="559.6" cy="1356.0" rx="4.7" ry="1.9" transform="rotate(-50 559.6 1356.0)"/>
<ellipse cx="574.4" cy="1359.5" rx="4.7" ry="1.9" transform="rotate(-50 574.4 1359.5)"/>
<ellipse cx="589.2" cy="1363.0" rx="4.7" ry="1.9" transform="rotate(-50 589.2 1363.0)"/>
<ellipse cx="604.0" cy="1366.5" rx="4.7" ry="1.9" transform="rotate(-50 604.0 1366.5)"/>
<ellipse cx="618.8" cy="1370.0" rx="4.7" ry="1.9" transform="rotate(-50 618.8 1370.0)"/>
<ellipse cx="633.6" cy="1373.5" rx="4.7" ry="1.9" transform="rotate(-50 633.6 1373.5)"/>
<ellipse cx="648.4" cy="1377.0" rx="4.7" ry="1.9" transform="rotate(-50 648.4 1377.0)"/>
<ellipse cx="663.2" cy="1380.5" rx="4.7" ry="1.9" transform="rotate(-50 663.2 1380.5)"/>
<ellipse cx="678.0" cy="1384.0" rx="4.7" ry="1.9" transform="rotate(-50 678.0 1384.0)"/>
<ellipse cx="692.8" cy="1387.5" rx="4.7" ry="1.9" transform="rotate(-50 692.8 1387.5)"/>
<ellipse cx="707.6" cy="1391.0" rx="4.7" ry="1.9" transform="rotate(-50 707.6 1391.0)"/>
<ellipse cx="722.4" cy="1394.5" rx="4.7" ry="1.9" transform="rotate(-50 722.4 1394.5)"/>
<ellipse cx="737.2" cy="1398.0" rx="4.7" ry="1.9" transform="rotate(-50 737.2 1398.0)"/>
<ellipse cx="752.0" cy="1401.5" rx="4.7" ry="1.9" transform="rotate(-50 752.0 1401.5)"/>
<ellipse cx="766.8" cy="1405.0" rx="4.7" ry="1.9" transform="rotate(-50 766.8 1405.0)"/>
<ellipse cx="781.6" cy="1408.5" rx="4.7" ry="1.9" transform="rotate(-50 781.6 1408.5)"/>
<ellipse cx="796.4" cy="1412.0" rx="4.7" ry="1.9" transform="rotate(-50 796.4 1412.0)"/>
<ellipse cx="811.2" cy="1415.5" rx="4.7" ry="1.9" transform="rotate(-50 811.2 1415.5)"/>
<ellipse cx="826.0" cy="1419.0" rx="4.7" ry="1.9" transform="rotate(-50 826.0 1419.0)"/>
<ellipse cx="840.8" cy="1422.5" rx="4.7" ry="1.9" transform="rotate(-50 840.8 1422.5)"/>
<ellipse cx="545.8" cy="1371.6" rx="4.7" ry="1.9" transform="rotate(-50 545.8 1371.6)"/>
<ellipse cx="560.6" cy="1375.1" rx="4.7" ry="1.9" transform="rotate(-50 560.6 1375.1)"/>
<ellipse cx="575.4" cy="1378.6" rx="4.7" ry="1.9" transform="rotate(-50 575.4 1378.6)"/>
<ellipse cx="590.2" cy="1382.1" rx="4.7" ry="1.9" transform="rotate(-50 590.2 1382.1)"/>
<ellipse cx="605.0" cy="1385.6" rx="4.7" ry="1.9" transform="rotate(-50 605.0 1385.6)"/>
<ellipse cx="619.8" cy="1389.1" rx="4.7" ry="1.9" transform="rotate(-50 619.8 1389.1)"/>
<ellipse cx="634.6" cy="1392.6" rx="4.7" ry="1.9" transform="rotate(-50 634.6 1392.6)"/>
<ellipse cx="649.4" cy="1396.1" rx="4.7" ry="1.9" transform="rotate(-50 649.4 1396.1)"/>
<ellipse cx="664.2" cy="1399.6" rx="4.7" ry="1.9" transform="rotate(-50 664.2 1399.6)"/>
<ellipse cx="679.0" cy="1403.1" rx="4.7" ry="1.9" transform="rotate(-50 679.0 1403.1)"/>
<ellipse cx="693.8" cy="1406.6" rx="4.7" ry="1.9" transform="rotate(-50 693.8 1406.6)"/>
<ellipse cx="708.6" cy="1410.1" rx="4.7" ry="1.9" transform="rotate(-50 708.6 1410.1)"/>
<ellipse cx="723.4" cy="1413.6" rx="4.7" ry="1.9" transform="rotate(-50 723.4 1413.6)"/>
<ellipse cx="738.2" cy="1417.1" rx="4.7" ry="1.9" transform="rotate(-50 738.2 1417.1)"/>
<ellipse cx="753.0" cy="1420.6" rx="4.7" ry="1.9" transform="rotate(-50 753.0 1420.6)"/>
<ellipse cx="767.8" cy="1424.1" rx="4.7" ry="1.9" transform="rotate(-50 767.8 1424.1)"/>
<ellipse cx="782.6" cy="1427.6" rx="4.7" ry="1.9" transform="rotate(-50 782.6 1427.6)"/>
<ellipse cx="797.4" cy="1431.1" rx="4.7" ry="1.9" transform="rotate(-50 797.4 1431.1)"/>
<ellipse cx="812.2" cy="1434.6" rx="4.7" ry="1.9" transform="rotate(-50 812.2 1434.6)"/>
<ellipse cx="827.0" cy="1438.1" rx="4.7" ry="1.9" transform="rotate(-50 827.0 1438.1)"/>
<ellipse cx="532.0" cy="1387.2" rx="4.7" ry="1.9" transform="rotate(-50 532.0 1387.2)"/>
<ellipse cx="546.8" cy="1390.7" rx="4.7" ry="1.9" transform="rotate(-50 546.8 1390.7)"/>
<ellipse cx="561.6" cy="1394.2" rx="4.7" ry="1.9" transform="rotate(-50 561.6 1394.2)"/>
<ellipse cx="576.4" cy="1397.7" rx="4.7" ry="1.9" transform="rotate(-50 576.4 1397.7)"/>
<ellipse cx="591.2" cy="1401.2" rx="4.7" ry="1.9" transform="rotate(-50 591.2 1401.2)"/>
<ellipse cx="606.0" cy="1404.7" rx="4.7" ry="1.9" transform="rotate(-50 606.0 1404.7)"/>
<ellipse cx="620.8" cy="1408.2" rx="4.7" ry="1.9" transform="rotate(-50 620.8 1408.2)"/>
<ellipse cx="635.6" cy="1411.7" rx="4.7" ry="1.9" transform="rotate(-50 635.6 1411.7)"/>
<ellipse cx="650.4" cy="1415.2" rx="4.7" ry="1.9" transform="rotate(-50 650.4 1415.2)"/>
<ellipse cx="665.2" cy="1418.7" rx="4.7" ry="1.9" transform="rotate(-50 665.2 1418.7)"/>
<ellipse cx="680.0" cy="1422.2" rx="4.7" ry="1.9" transform="rotate(-50 680.0 1422.2)"/>
<ellipse cx="694.8" cy="1425.7" rx="4.7" ry="1.9" transform="rotate(-50 694.8 1425.7)"/>
<ellipse cx="709.6" cy="1429.2" rx="4.7" ry="1.9" transform="rotate(-50 709.6 1429.2)"/>
<ellipse cx="724.4" cy="1432.7" rx="4.7" ry="1.9" transform="rotate(-50 724.4 1432.7)"/>
<ellipse cx="739.2" cy="1436.2" rx="4.7" ry="1.9" transform="rotate(-50 739.2 1436.2)"/>
<ellipse cx="754.0" cy="1439.7" rx="4.7" ry="1.9" transform="rotate(-50 754.0 1439.7)"/>
<ellipse cx="768.8" cy="1443.2" rx="4.7" ry="1.9" transform="rotate(-50 768.8 1443.2)"/>
<ellipse cx="783.6" cy="1446.7" rx="4.7" ry="1.9" transform="rotate(-50 783.6 1446.7)"/>
<ellipse cx="798.4" cy="1450.2" rx="4.7" ry="1.9" transform="rotate(-50 798.4 1450.2)"/>
<ellipse cx="813.2" cy="1453.7" rx="4.7" ry="1.9" transform="rotate(-50 813.2 1453.7)"/>
<ellipse cx="518.2" cy="1402.8" rx="4.7" ry="1.9" transform="rotate(-50 518.2 1402.8)"/>
<ellipse cx="533.0" cy="1406.3" rx="4.7" ry="1.9" transform="rotate(-50 533.0 1406.3)"/>
<ellipse cx="547.8" cy="1409.8" rx="4.7" ry="1.9" transform="rotate(-50 547.8 1409.8)"/>
<ellipse cx="562.6" cy="1413.3" rx="4.7" ry="1.9" transform="rotate(-50 562.6 1413.3)"/>
<ellipse cx="577.4" cy="1416.8" rx="4.7" ry="1.9" transform="rotate(-50 577.4 1416.8)"/>
<ellipse cx="592.2" cy="1420.3" rx="4.7" ry="1.9" transform="rotate(-50 592.2 1420.3)"/>
<ellipse cx="607.0" cy="1423.8" rx="4.7" ry="1.9" transform="rotate(-50 607.0 1423.8)"/>
<ellipse cx="621.8" cy="1427.3" rx="4.7" ry="1.9" transform="rotate(-50 621.8 1427.3)"/>
<ellipse cx="636.6" cy="1430.8" rx="4.7" ry="1.9" transform="rotate(-50 636.6 1430.8)"/>
<ellipse cx="651.4" cy="1434.3" rx="4.7" ry="1.9" transform="rotate(-50 651.4 1434.3)"/>
<ellipse cx="666.2" cy="1437.8" rx="4.7" ry="1.9" transform="rotate(-50 666.2 1437.8)"/>
<ellipse cx="681.0" cy="1441.3" rx="4.7" ry="1.9" transform="rotate(-50 681.0 1441.3)"/>
<ellipse cx="695.8" cy="1444.8" rx="4.7" ry="1.9" transform="rotate(-50 695.8 1444.8)"/>
<ellipse cx="710.6" cy="1448.3" rx="4.7" ry="1.9" transform="rotate(-50 710.6 1448.3)"/>
<ellipse cx="725.4" cy="1451.8" rx="4.7" ry="1.9" transform="rotate(-50 725.4 1451.8)"/>
<ellipse cx="740.2" cy="1455.3" rx="4.7" ry="1.9" transform="rotate(-50 740.2 1455.3)"/>
<ellipse cx="755.0" cy="1458.8" rx="4.7" ry="1.9" transform="rotate(-50 755.0 1458.8)"/>
<ellipse cx="769.8" cy="1462.3" rx="4.7" ry="1.9" transform="rotate(-50 769.8 1462.3)"/>
<ellipse cx="784.6" cy="1465.8" rx="4.7" ry="1.9" transform="rotate(-50 784.6 1465.8)"/>
<ellipse cx="799.4" cy="1469.3" rx="4.7" ry="1.9" transform="rotate(-50 799.4 1469.3)"/>
<ellipse cx="504.4" cy="1418.4" rx="4.7" ry="1.9" transform="rotate(-50 504.4 1418.4)"/>
<ellipse cx="519.2" cy="1421.9" rx="4.7" ry="1.9" transform="rotate(-50 519.2 1421.9)"/>
<ellipse cx="534.0" cy="1425.4" rx="4.7" ry="1.9" transform="rotate(-50 534.0 1425.4)"/>
<ellipse cx="548.8" cy="1428.9" rx="4.7" ry="1.9" transform="rotate(-50 548.8 1428.9)"/>
<ellipse cx="563.6" cy="1432.4" rx="4.7" ry="1.9" transform="rotate(-50 563.6 1432.4)"/>
<ellipse cx="578.4" cy="1435.9" rx="4.7" ry="1.9" transform="rotate(-50 578.4 1435.9)"/>
<ellipse cx="593.2" cy="1439.4" rx="4.7" ry="1.9" transform="rotate(-50 593.2 1439.4)"/>
<ellipse cx="608.0" cy="1442.9" rx="4.7" ry="1.9" transform="rotate(-50 608.0 1442.9)"/>
<ellipse cx="622.8" cy="1446.4" rx="4.7" ry="1.9" transform="rotate(-50 622.8 1446.4)"/>
<ellipse cx="637.6" cy="1449.9" rx="4.7" ry="1.9" transform="rotate(-50 637.6 1449.9)"/>
<ellipse cx="652.4" cy="1453.4" rx="4.7" ry="1.9" transform="rotate(-50 652.4 1453.4)"/>
<ellipse cx="667.2" cy="1456.9" rx="4.7" ry="1.9" transform="rotate(-50 667.2 1456.9)"/>
<ellipse cx="682.0" cy="1460.4" rx="4.7" ry="1.9" transform="rotate(-50 682.0 1460.4)"/>
<ellipse cx="696.8" cy="1463.9" rx="4.7" ry="1.9" transform="rotate(-50 696.8 1463.9)"/>
<ellipse cx="711.6" cy="1467.4" rx="4.7" ry="1.9" transform="rotate(-50 711.6 1467.4)"/>
<ellipse cx="726.4" cy="1470.9" rx="4.7" ry="1.9" transform="rotate(-50 726.4 1470.9)"/>
<ellipse cx="741.2" cy="1474.4" rx="4.7" ry="1.9" transform="rotate(-50 741.2 1474.4)"/>
<ellipse cx="756.0" cy="1477.9" rx="4.7" ry="1.9" transform="rotate(-50 756.0 1477.9)"/>
<ellipse cx="770.8" cy="1481.4" rx="4.7" ry="1.9" transform="rotate(-50 770.8 1481.4)"/>
<ellipse cx="785.6" cy="1484.9" rx="4.7" ry="1.9" transform="rotate(-50 785.6 1484.9)"/>
<ellipse cx="490.6" cy="1434.0" rx="4.7" ry="1.9" transform="rotate(-50 490.6 1434.0)"/>
<ellipse cx="505.4" cy="1437.5" rx="4.7" ry="1.9" transform="rotate(-50 505.4 1437.5)"/>
<ellipse cx="520.2" cy="1441.0" rx="4.7" ry="1.9" transform="rotate(-50 520.2 1441.0)"/>
<ellipse cx="535.0" cy="1444.5" rx="4.7" ry="1.9" transform="rotate(-50 535.0 1444.5)"/>
<ellipse cx="549.8" cy="1448.0" rx="4.7" ry="1.9" transform="rotate(-50 549.8 1448.0)"/>
<ellipse cx="564.6" cy="1451.5" rx="4.7" ry="1.9" transform="rotate(-50 564.6 1451.5)"/>
<ellipse cx="579.4" cy="1455.0" rx="4.7" ry="1.9" transform="rotate(-50 579.4 1455.0)"/>
<ellipse cx="594.2" cy="1458.5" rx="4.7" ry="1.9" transform="rotate(-50 594.2 1458.5)"/>
<ellipse cx="609.0" cy="1462.0" rx="4.7" ry="1.9" transform="rotate(-50 609.0 1462.0)"/>
<ellipse cx="623.8" cy="1465.5" rx="4.7" ry="1.9" transform="rotate(-50 623.8 1465.5)"/>
<ellipse cx="638.6" cy="1469.0" rx="4.7" ry="1.9" transform="rotate(-50 638.6 1469.0)"/>
<ellipse cx="653.4" cy="1472.5" rx="4.7" ry="1.9" transform="rotate(-50 653.4 1472.5)"/>
<ellipse cx="668.2" cy="1476.0" rx="4.7" ry="1.9" transform="rotate(-50 668.2 1476.0)"/>
<ellipse cx="683.0" cy="1479.5" rx="4.7" ry="1.9" transform="rotate(-50 683.0 1479.5)"/>
<ellipse cx="697.8" cy="1483.0" rx="4.7" ry="1.9" transform="rotate(-50 697.8 1483.0)"/>
<ellipse cx="712.6" cy="1486.5" rx="4.7" ry="1.9" transform="rotate(-50 712.6 1486.5)"/>
<ellipse cx="727.4" cy="1490.0" rx="4.7" ry="1.9" transform="rotate(-50 727.4 1490.0)"/>
<ellipse cx="742.2" cy="1493.5" rx="4.7" ry="1.9" transform="rotate(-50 742.2 1493.5)"/>
<ellipse cx="757.0" cy="1497.0" rx="4.7" ry="1.9" transform="rotate(-50 757.0 1497.0)"/>
<ellipse cx="771.8" cy="1500.5" rx="4.7" ry="1.9" transform="rotate(-50 771.8 1500.5)"/>
<ellipse cx="476.8" cy="1449.6" rx="4.7" ry="1.9" transform="rotate(-50 476.8 1449.6)"/>
<ellipse cx="491.6" cy="1453.1" rx="4.7" ry="1.9" transform="rotate(-50 491.6 1453.1)"/>
<ellipse cx="506.4" cy="1456.6" rx="4.7" ry="1.9" transform="rotate(-50 506.4 1456.6)"/>
<ellipse cx="521.2" cy="1460.1" rx="4.7" ry="1.9" transform="rotate(-50 521.2 1460.1)"/>
<ellipse cx="536.0" cy="1463.6" rx="4.7" ry="1.9" transform="rotate(-50 536.0 1463.6)"/>
<ellipse cx="550.8" cy="1467.1" rx="4.7" ry="1.9" transform="rotate(-50 550.8 1467.1)"/>
<ellipse cx="565.6" cy="1470.6" rx="4.7" ry="1.9" transform="rotate(-50 565.6 1470.6)"/>
<ellipse cx="580.4" cy="1474.1" rx="4.7" ry="1.9" transform="rotate(-50 580.4 1474.1)"/>
<ellipse cx="595.2" cy="1477.6" rx="4.7" ry="1.9" transform="rotate(-50 595.2 1477.6)"/>
<ellipse cx="610.0" cy="1481.1" rx="4.7" ry="1.9" transform="rotate(-50 610.0 1481.1)"/>
<ellipse cx="624.8" cy="1484.6" rx="4.7" ry="1.9" transform="rotate(-50 624.8 1484.6)"/>
<ellipse cx="639.6" cy="1488.1" rx="4.7" ry="1.9" transform="rotate(-50 639.6 1488.1)"/>
<ellipse cx="654.4" cy="1491.6" rx="4.7" ry="1.9" transform="rotate(-50 654.4 1491.6)"/>
<ellipse cx="669.2" cy="1495.1" rx="4.7" ry="1.9" transform="rotate(-50 669.2 1495.1)"/>
<ellipse cx="684.0" cy="1498.6" rx="4.7" ry="1.9" transform="rotate(-50 684.0 1498.6)"/>
<ellipse cx="698.8" cy="1502.1" rx="4.7" ry="1.9" transform="rotate(-50 698.8 1502.1)"/>
<ellipse cx="713.6" cy="1505.6" rx="4.7" ry="1.9" transform="rotate(-50 713.6 1505.6)"/>
<ellipse cx="728.4" cy="1509.1" rx="4.7" ry="1.9" transform="rotate(-50 728.4 1509.1)"/>
<ellipse cx="743.2" cy="1512.6" rx="4.7" ry="1.9" transform="rotate(-50 743.2 1512.6)"/>
<ellipse cx="758.0" cy="1516.1" rx="4.7" ry="1.9" transform="rotate(-50 758.0 1516.1)"/>
<ellipse cx="463.0" cy="1465.2" rx="4.7" ry="1.9" transform="rotate(-50 463.0 1465.2)"/>
<ellipse cx="477.8" cy="1468.7" rx="4.7" ry="1.9" transform="rotate(-50 477.8 1468.7)"/>
<ellipse cx="492.6" cy="1472.2" rx="4.7" ry="1.9" transform="rotate(-50 492.6 1472.2)"/>
<ellipse cx="507.4" cy="1475.7" rx="4.7" ry="1.9" transform="rotate(-50 507.4 1475.7)"/>
<ellipse cx="522.2" cy="1479.2" rx="4.7" ry="1.9" transform="rotate(-50 522.2 1479.2)"/>
<ellipse cx="537.0" cy="1482.7" rx="4.7" ry="1.9" transform="rotate(-50 537.0 1482.7)"/>
<ellipse cx="551.8" cy="1486.2" rx="4.7" ry="1.9" transform="rotate(-50 551.8 1486.2)"/>
<ellipse cx="566.6" cy="1489.7" rx="4.7" ry="1.9" transform="rotate(-50 566.6 1489.7)"/>
<ellipse cx="581.4" cy="1493.2" rx="4.7" ry="1.9" transform="rotate(-50 581.4 1493.2)"/>
<ellipse cx="596.2" cy="1496.7" rx="4.7" ry="1.9" transform="rotate(-50 596.2 1496.7)"/>
<ellipse cx="611.0" cy="1500.2" rx="4.7" ry="1.9" transform="rotate(-50 611.0 1500.2)"/>
<ellipse cx="625.8" cy="1503.7" rx="4.7" ry="1.9" transform="rotate(-50 625.8 1503.7)"/>
<ellipse cx="640.6" cy="1507.2" rx="4.7" ry="1.9" transform="rotate(-50 640.6 1507.2)"/>
<ellipse cx="655.4" cy="1510.7" rx="4.7" ry="1.9" transform="rotate(-50 655.4 1510.7)"/>
<ellipse cx="670.2" cy="1514.2" rx="4.7" ry="1.9" transform="rotate(-50 670.2 1514.2)"/>
<ellipse cx="685.0" cy="1517.7" rx="4.7" ry="1.9" transform="rotate(-50 685.0 1517.7)"/>
<ellipse cx="699.8" cy="1521.2" rx="4.7" ry="1.9" transform="rotate(-50 699.8 1521.2)"/>
<ellipse cx="714.6" cy="1524.7" rx="4.7" ry="1.9" transform="rotate(-50 714.6 1524.7)"/>
<ellipse cx="729.4" cy="1528.2" rx="4.7" ry="1.9" transform="rotate(-50 729.4 1528.2)"/>
<ellipse cx="744.2" cy="1531.7" rx="4.7" ry="1.9" transform="rotate(-50 744.2 1531.7)"/>
<ellipse cx="449.2" cy="1480.8" rx="4.7" ry="1.9" transform="rotate(-50 449.2 1480.8)"/>
<ellipse cx="464.0" cy="1484.3" rx="4.7" ry="1.9" transform="rotate(-50 464.0 1484.3)"/>
<ellipse cx="478.8" cy="1487.8" rx="4.7" ry="1.9" transform="rotate(-50 478.8 1487.8)"/>
<ellipse cx="493.6" cy="1491.3" rx="4.7" ry="1.9" transform="rotate(-50 493.6 1491.3)"/>
<ellipse cx="508.4" cy="1494.8" rx="4.7" ry="1.9" transform="rotate(-50 508.4 1494.8)"/>
<ellipse cx="523.2" cy="1498.3" rx="4.7" ry="1.9" transform="rotate(-50 523.2 1498.3)"/>
<ellipse cx="538.0" cy="1501.8" rx="4.7" ry="1.9" transform="rotate(-50 538.0 1501.8)"/>
<ellipse cx="552.8" cy="1505.3" rx="4.7" ry="1.9" transform="rotate(-50 552.8 1505.3)"/>
<ellipse cx="567.6" cy="1508.8" rx="4.7" ry="1.9" transform="rotate(-50 567.6 1508.8)"/>
<ellipse cx="582.4" cy="1512.3" rx="4.7" ry="1.9" transform="rotate(-50 582.4 1512.3)"/>
<ellipse cx="597.2" cy="1515.8" rx="4.7" ry="1.9" transform="rotate(-50 597.2 1515.8)"/>
<ellipse cx="612.0" cy="1519.3" rx="4.7" ry="1.9" transform="rotate(-50 612.0 1519.3)"/>
<ellipse cx="626.8" cy="1522.8" rx="4.7" ry="1.9" transform="rotate(-50 626.8 1522.8)"/>
<ellipse cx="641.6" cy="1526.3" rx="4.7" ry="1.9" transform="rotate(-50 641.6 1526.3)"/>
<ellipse cx="656.4" cy="1529.8" rx="4.7" ry="1.9" transform="rotate(-50 656.4 1529.8)"/>
<ellipse cx="671.2" cy="1533.3" rx="4.7" ry="1.9" transform="rotate(-50 671.2 1533.3)"/>
<ellipse cx="686.0" cy="1536.8" rx="4.7" ry="1.9" transform="rotate(-50 686.0 1536.8)"/>
<ellipse cx="700.8" cy="1540.3" rx="4.7" ry="1.9" transform="rotate(-50 700.8 1540.3)"/>
<ellipse cx="715.6" cy="1543.8" rx="4.7" ry="1.9" transform="rotate(-50 715.6 1543.8)"/>
<ellipse cx="730.4" cy="1547.3" rx="4.7" ry="1.9" transform="rotate(-50 730.4 1547.3)"/>
</g>
<g clip-path="url(#c5floorA)" fill="#e6e6e9">
<ellipse cx="690.4" cy="1229.2" rx="4.6" ry="1.9" transform="rotate(-55 690.4 1229.2)"/>
<ellipse cx="707.2" cy="1227.6" rx="4.6" ry="1.9" transform="rotate(-55 707.2 1227.6)"/>
<ellipse cx="724.0" cy="1226.0" rx="4.6" ry="1.9" transform="rotate(-55 724.0 1226.0)"/>
<ellipse cx="740.8" cy="1224.4" rx="4.6" ry="1.9" transform="rotate(-55 740.8 1224.4)"/>
<ellipse cx="757.6" cy="1222.8" rx="4.6" ry="1.9" transform="rotate(-55 757.6 1222.8)"/>
<ellipse cx="774.4" cy="1221.2" rx="4.6" ry="1.9" transform="rotate(-55 774.4 1221.2)"/>
<ellipse cx="791.2" cy="1219.6" rx="4.6" ry="1.9" transform="rotate(-55 791.2 1219.6)"/>
<ellipse cx="808.0" cy="1218.0" rx="4.6" ry="1.9" transform="rotate(-55 808.0 1218.0)"/>
<ellipse cx="824.8" cy="1216.4" rx="4.6" ry="1.9" transform="rotate(-55 824.8 1216.4)"/>
<ellipse cx="841.6" cy="1214.8" rx="4.6" ry="1.9" transform="rotate(-55 841.6 1214.8)"/>
<ellipse cx="858.4" cy="1213.2" rx="4.6" ry="1.9" transform="rotate(-55 858.4 1213.2)"/>
<ellipse cx="875.2" cy="1211.6" rx="4.6" ry="1.9" transform="rotate(-55 875.2 1211.6)"/>
<ellipse cx="684.4" cy="1243.2" rx="4.6" ry="1.9" transform="rotate(-55 684.4 1243.2)"/>
<ellipse cx="701.2" cy="1241.6" rx="4.6" ry="1.9" transform="rotate(-55 701.2 1241.6)"/>
<ellipse cx="718.0" cy="1240.0" rx="4.6" ry="1.9" transform="rotate(-55 718.0 1240.0)"/>
<ellipse cx="734.8" cy="1238.4" rx="4.6" ry="1.9" transform="rotate(-55 734.8 1238.4)"/>
<ellipse cx="751.6" cy="1236.8" rx="4.6" ry="1.9" transform="rotate(-55 751.6 1236.8)"/>
<ellipse cx="768.4" cy="1235.2" rx="4.6" ry="1.9" transform="rotate(-55 768.4 1235.2)"/>
<ellipse cx="785.2" cy="1233.6" rx="4.6" ry="1.9" transform="rotate(-55 785.2 1233.6)"/>
<ellipse cx="802.0" cy="1232.0" rx="4.6" ry="1.9" transform="rotate(-55 802.0 1232.0)"/>
<ellipse cx="818.8" cy="1230.4" rx="4.6" ry="1.9" transform="rotate(-55 818.8 1230.4)"/>
<ellipse cx="835.6" cy="1228.8" rx="4.6" ry="1.9" transform="rotate(-55 835.6 1228.8)"/>
<ellipse cx="852.4" cy="1227.2" rx="4.6" ry="1.9" transform="rotate(-55 852.4 1227.2)"/>
<ellipse cx="869.2" cy="1225.6" rx="4.6" ry="1.9" transform="rotate(-55 869.2 1225.6)"/>
<ellipse cx="678.4" cy="1257.2" rx="4.6" ry="1.9" transform="rotate(-55 678.4 1257.2)"/>
<ellipse cx="695.2" cy="1255.6" rx="4.6" ry="1.9" transform="rotate(-55 695.2 1255.6)"/>
<ellipse cx="712.0" cy="1254.0" rx="4.6" ry="1.9" transform="rotate(-55 712.0 1254.0)"/>
<ellipse cx="728.8" cy="1252.4" rx="4.6" ry="1.9" transform="rotate(-55 728.8 1252.4)"/>
<ellipse cx="745.6" cy="1250.8" rx="4.6" ry="1.9" transform="rotate(-55 745.6 1250.8)"/>
<ellipse cx="762.4" cy="1249.2" rx="4.6" ry="1.9" transform="rotate(-55 762.4 1249.2)"/>
<ellipse cx="779.2" cy="1247.6" rx="4.6" ry="1.9" transform="rotate(-55 779.2 1247.6)"/>
<ellipse cx="796.0" cy="1246.0" rx="4.6" ry="1.9" transform="rotate(-55 796.0 1246.0)"/>
<ellipse cx="812.8" cy="1244.4" rx="4.6" ry="1.9" transform="rotate(-55 812.8 1244.4)"/>
<ellipse cx="829.6" cy="1242.8" rx="4.6" ry="1.9" transform="rotate(-55 829.6 1242.8)"/>
<ellipse cx="846.4" cy="1241.2" rx="4.6" ry="1.9" transform="rotate(-55 846.4 1241.2)"/>
<ellipse cx="863.2" cy="1239.6" rx="4.6" ry="1.9" transform="rotate(-55 863.2 1239.6)"/>
<ellipse cx="672.4" cy="1271.2" rx="4.6" ry="1.9" transform="rotate(-55 672.4 1271.2)"/>
<ellipse cx="689.2" cy="1269.6" rx="4.6" ry="1.9" transform="rotate(-55 689.2 1269.6)"/>
<ellipse cx="706.0" cy="1268.0" rx="4.6" ry="1.9" transform="rotate(-55 706.0 1268.0)"/>
<ellipse cx="722.8" cy="1266.4" rx="4.6" ry="1.9" transform="rotate(-55 722.8 1266.4)"/>
<ellipse cx="739.6" cy="1264.8" rx="4.6" ry="1.9" transform="rotate(-55 739.6 1264.8)"/>
<ellipse cx="756.4" cy="1263.2" rx="4.6" ry="1.9" transform="rotate(-55 756.4 1263.2)"/>
<ellipse cx="773.2" cy="1261.6" rx="4.6" ry="1.9" transform="rotate(-55 773.2 1261.6)"/>
<ellipse cx="790.0" cy="1260.0" rx="4.6" ry="1.9" transform="rotate(-55 790.0 1260.0)"/>
<ellipse cx="806.8" cy="1258.4" rx="4.6" ry="1.9" transform="rotate(-55 806.8 1258.4)"/>
<ellipse cx="823.6" cy="1256.8" rx="4.6" ry="1.9" transform="rotate(-55 823.6 1256.8)"/>
<ellipse cx="840.4" cy="1255.2" rx="4.6" ry="1.9" transform="rotate(-55 840.4 1255.2)"/>
<ellipse cx="857.2" cy="1253.6" rx="4.6" ry="1.9" transform="rotate(-55 857.2 1253.6)"/>
<ellipse cx="666.4" cy="1285.2" rx="4.6" ry="1.9" transform="rotate(-55 666.4 1285.2)"/>
<ellipse cx="683.2" cy="1283.6" rx="4.6" ry="1.9" transform="rotate(-55 683.2 1283.6)"/>
<ellipse cx="700.0" cy="1282.0" rx="4.6" ry="1.9" transform="rotate(-55 700.0 1282.0)"/>
<ellipse cx="716.8" cy="1280.4" rx="4.6" ry="1.9" transform="rotate(-55 716.8 1280.4)"/>
<ellipse cx="733.6" cy="1278.8" rx="4.6" ry="1.9" transform="rotate(-55 733.6 1278.8)"/>
<ellipse cx="750.4" cy="1277.2" rx="4.6" ry="1.9" transform="rotate(-55 750.4 1277.2)"/>
<ellipse cx="767.2" cy="1275.6" rx="4.6" ry="1.9" transform="rotate(-55 767.2 1275.6)"/>
<ellipse cx="784.0" cy="1274.0" rx="4.6" ry="1.9" transform="rotate(-55 784.0 1274.0)"/>
<ellipse cx="800.8" cy="1272.4" rx="4.6" ry="1.9" transform="rotate(-55 800.8 1272.4)"/>
<ellipse cx="817.6" cy="1270.8" rx="4.6" ry="1.9" transform="rotate(-55 817.6 1270.8)"/>
<ellipse cx="834.4" cy="1269.2" rx="4.6" ry="1.9" transform="rotate(-55 834.4 1269.2)"/>
<ellipse cx="851.2" cy="1267.6" rx="4.6" ry="1.9" transform="rotate(-55 851.2 1267.6)"/>
<ellipse cx="660.4" cy="1299.2" rx="4.6" ry="1.9" transform="rotate(-55 660.4 1299.2)"/>
<ellipse cx="677.2" cy="1297.6" rx="4.6" ry="1.9" transform="rotate(-55 677.2 1297.6)"/>
<ellipse cx="694.0" cy="1296.0" rx="4.6" ry="1.9" transform="rotate(-55 694.0 1296.0)"/>
<ellipse cx="710.8" cy="1294.4" rx="4.6" ry="1.9" transform="rotate(-55 710.8 1294.4)"/>
<ellipse cx="727.6" cy="1292.8" rx="4.6" ry="1.9" transform="rotate(-55 727.6 1292.8)"/>
<ellipse cx="744.4" cy="1291.2" rx="4.6" ry="1.9" transform="rotate(-55 744.4 1291.2)"/>
<ellipse cx="761.2" cy="1289.6" rx="4.6" ry="1.9" transform="rotate(-55 761.2 1289.6)"/>
<ellipse cx="778.0" cy="1288.0" rx="4.6" ry="1.9" transform="rotate(-55 778.0 1288.0)"/>
<ellipse cx="794.8" cy="1286.4" rx="4.6" ry="1.9" transform="rotate(-55 794.8 1286.4)"/>
<ellipse cx="811.6" cy="1284.8" rx="4.6" ry="1.9" transform="rotate(-55 811.6 1284.8)"/>
<ellipse cx="828.4" cy="1283.2" rx="4.6" ry="1.9" transform="rotate(-55 828.4 1283.2)"/>
<ellipse cx="845.2" cy="1281.6" rx="4.6" ry="1.9" transform="rotate(-55 845.2 1281.6)"/>
<ellipse cx="654.4" cy="1313.2" rx="4.6" ry="1.9" transform="rotate(-55 654.4 1313.2)"/>
<ellipse cx="671.2" cy="1311.6" rx="4.6" ry="1.9" transform="rotate(-55 671.2 1311.6)"/>
<ellipse cx="688.0" cy="1310.0" rx="4.6" ry="1.9" transform="rotate(-55 688.0 1310.0)"/>
<ellipse cx="704.8" cy="1308.4" rx="4.6" ry="1.9" transform="rotate(-55 704.8 1308.4)"/>
<ellipse cx="721.6" cy="1306.8" rx="4.6" ry="1.9" transform="rotate(-55 721.6 1306.8)"/>
<ellipse cx="738.4" cy="1305.2" rx="4.6" ry="1.9" transform="rotate(-55 738.4 1305.2)"/>
<ellipse cx="755.2" cy="1303.6" rx="4.6" ry="1.9" transform="rotate(-55 755.2 1303.6)"/>
<ellipse cx="772.0" cy="1302.0" rx="4.6" ry="1.9" transform="rotate(-55 772.0 1302.0)"/>
<ellipse cx="788.8" cy="1300.4" rx="4.6" ry="1.9" transform="rotate(-55 788.8 1300.4)"/>
<ellipse cx="805.6" cy="1298.8" rx="4.6" ry="1.9" transform="rotate(-55 805.6 1298.8)"/>
<ellipse cx="822.4" cy="1297.2" rx="4.6" ry="1.9" transform="rotate(-55 822.4 1297.2)"/>
<ellipse cx="839.2" cy="1295.6" rx="4.6" ry="1.9" transform="rotate(-55 839.2 1295.6)"/>
<ellipse cx="648.4" cy="1327.2" rx="4.6" ry="1.9" transform="rotate(-55 648.4 1327.2)"/>
<ellipse cx="665.2" cy="1325.6" rx="4.6" ry="1.9" transform="rotate(-55 665.2 1325.6)"/>
<ellipse cx="682.0" cy="1324.0" rx="4.6" ry="1.9" transform="rotate(-55 682.0 1324.0)"/>
<ellipse cx="698.8" cy="1322.4" rx="4.6" ry="1.9" transform="rotate(-55 698.8 1322.4)"/>
<ellipse cx="715.6" cy="1320.8" rx="4.6" ry="1.9" transform="rotate(-55 715.6 1320.8)"/>
<ellipse cx="732.4" cy="1319.2" rx="4.6" ry="1.9" transform="rotate(-55 732.4 1319.2)"/>
<ellipse cx="749.2" cy="1317.6" rx="4.6" ry="1.9" transform="rotate(-55 749.2 1317.6)"/>
<ellipse cx="766.0" cy="1316.0" rx="4.6" ry="1.9" transform="rotate(-55 766.0 1316.0)"/>
<ellipse cx="782.8" cy="1314.4" rx="4.6" ry="1.9" transform="rotate(-55 782.8 1314.4)"/>
<ellipse cx="799.6" cy="1312.8" rx="4.6" ry="1.9" transform="rotate(-55 799.6 1312.8)"/>
<ellipse cx="816.4" cy="1311.2" rx="4.6" ry="1.9" transform="rotate(-55 816.4 1311.2)"/>
<ellipse cx="833.2" cy="1309.6" rx="4.6" ry="1.9" transform="rotate(-55 833.2 1309.6)"/>
<ellipse cx="642.4" cy="1341.2" rx="4.6" ry="1.9" transform="rotate(-55 642.4 1341.2)"/>
<ellipse cx="659.2" cy="1339.6" rx="4.6" ry="1.9" transform="rotate(-55 659.2 1339.6)"/>
<ellipse cx="676.0" cy="1338.0" rx="4.6" ry="1.9" transform="rotate(-55 676.0 1338.0)"/>
<ellipse cx="692.8" cy="1336.4" rx="4.6" ry="1.9" transform="rotate(-55 692.8 1336.4)"/>
<ellipse cx="709.6" cy="1334.8" rx="4.6" ry="1.9" transform="rotate(-55 709.6 1334.8)"/>
<ellipse cx="726.4" cy="1333.2" rx="4.6" ry="1.9" transform="rotate(-55 726.4 1333.2)"/>
<ellipse cx="743.2" cy="1331.6" rx="4.6" ry="1.9" transform="rotate(-55 743.2 1331.6)"/>
<ellipse cx="760.0" cy="1330.0" rx="4.6" ry="1.9" transform="rotate(-55 760.0 1330.0)"/>
<ellipse cx="776.8" cy="1328.4" rx="4.6" ry="1.9" transform="rotate(-55 776.8 1328.4)"/>
<ellipse cx="793.6" cy="1326.8" rx="4.6" ry="1.9" transform="rotate(-55 793.6 1326.8)"/>
<ellipse cx="810.4" cy="1325.2" rx="4.6" ry="1.9" transform="rotate(-55 810.4 1325.2)"/>
<ellipse cx="827.2" cy="1323.6" rx="4.6" ry="1.9" transform="rotate(-55 827.2 1323.6)"/>
<ellipse cx="636.4" cy="1355.2" rx="4.6" ry="1.9" transform="rotate(-55 636.4 1355.2)"/>
<ellipse cx="653.2" cy="1353.6" rx="4.6" ry="1.9" transform="rotate(-55 653.2 1353.6)"/>
<ellipse cx="670.0" cy="1352.0" rx="4.6" ry="1.9" transform="rotate(-55 670.0 1352.0)"/>
<ellipse cx="686.8" cy="1350.4" rx="4.6" ry="1.9" transform="rotate(-55 686.8 1350.4)"/>
<ellipse cx="703.6" cy="1348.8" rx="4.6" ry="1.9" transform="rotate(-55 703.6 1348.8)"/>
<ellipse cx="720.4" cy="1347.2" rx="4.6" ry="1.9" transform="rotate(-55 720.4 1347.2)"/>
<ellipse cx="737.2" cy="1345.6" rx="4.6" ry="1.9" transform="rotate(-55 737.2 1345.6)"/>
<ellipse cx="754.0" cy="1344.0" rx="4.6" ry="1.9" transform="rotate(-55 754.0 1344.0)"/>
<ellipse cx="770.8" cy="1342.4" rx="4.6" ry="1.9" transform="rotate(-55 770.8 1342.4)"/>
<ellipse cx="787.6" cy="1340.8" rx="4.6" ry="1.9" transform="rotate(-55 787.6 1340.8)"/>
<ellipse cx="804.4" cy="1339.2" rx="4.6" ry="1.9" transform="rotate(-55 804.4 1339.2)"/>
<ellipse cx="821.2" cy="1337.6" rx="4.6" ry="1.9" transform="rotate(-55 821.2 1337.6)"/>
<ellipse cx="630.4" cy="1369.2" rx="4.6" ry="1.9" transform="rotate(-55 630.4 1369.2)"/>
<ellipse cx="647.2" cy="1367.6" rx="4.6" ry="1.9" transform="rotate(-55 647.2 1367.6)"/>
<ellipse cx="664.0" cy="1366.0" rx="4.6" ry="1.9" transform="rotate(-55 664.0 1366.0)"/>
<ellipse cx="680.8" cy="1364.4" rx="4.6" ry="1.9" transform="rotate(-55 680.8 1364.4)"/>
<ellipse cx="697.6" cy="1362.8" rx="4.6" ry="1.9" transform="rotate(-55 697.6 1362.8)"/>
<ellipse cx="714.4" cy="1361.2" rx="4.6" ry="1.9" transform="rotate(-55 714.4 1361.2)"/>
<ellipse cx="731.2" cy="1359.6" rx="4.6" ry="1.9" transform="rotate(-55 731.2 1359.6)"/>
<ellipse cx="748.0" cy="1358.0" rx="4.6" ry="1.9" transform="rotate(-55 748.0 1358.0)"/>
<ellipse cx="764.8" cy="1356.4" rx="4.6" ry="1.9" transform="rotate(-55 764.8 1356.4)"/>
<ellipse cx="781.6" cy="1354.8" rx="4.6" ry="1.9" transform="rotate(-55 781.6 1354.8)"/>
<ellipse cx="798.4" cy="1353.2" rx="4.6" ry="1.9" transform="rotate(-55 798.4 1353.2)"/>
<ellipse cx="815.2" cy="1351.6" rx="4.6" ry="1.9" transform="rotate(-55 815.2 1351.6)"/>
<ellipse cx="624.4" cy="1383.2" rx="4.6" ry="1.9" transform="rotate(-55 624.4 1383.2)"/>
<ellipse cx="641.2" cy="1381.6" rx="4.6" ry="1.9" transform="rotate(-55 641.2 1381.6)"/>
<ellipse cx="658.0" cy="1380.0" rx="4.6" ry="1.9" transform="rotate(-55 658.0 1380.0)"/>
<ellipse cx="674.8" cy="1378.4" rx="4.6" ry="1.9" transform="rotate(-55 674.8 1378.4)"/>
<ellipse cx="691.6" cy="1376.8" rx="4.6" ry="1.9" transform="rotate(-55 691.6 1376.8)"/>
<ellipse cx="708.4" cy="1375.2" rx="4.6" ry="1.9" transform="rotate(-55 708.4 1375.2)"/>
<ellipse cx="725.2" cy="1373.6" rx="4.6" ry="1.9" transform="rotate(-55 725.2 1373.6)"/>
<ellipse cx="742.0" cy="1372.0" rx="4.6" ry="1.9" transform="rotate(-55 742.0 1372.0)"/>
<ellipse cx="758.8" cy="1370.4" rx="4.6" ry="1.9" transform="rotate(-55 758.8 1370.4)"/>
<ellipse cx="775.6" cy="1368.8" rx="4.6" ry="1.9" transform="rotate(-55 775.6 1368.8)"/>
<ellipse cx="792.4" cy="1367.2" rx="4.6" ry="1.9" transform="rotate(-55 792.4 1367.2)"/>
<ellipse cx="809.2" cy="1365.6" rx="4.6" ry="1.9" transform="rotate(-55 809.2 1365.6)"/>
</g>
<path d="M616.0,1362.0 L558.0,1430.0" stroke="#2f2e31" stroke-width="4" fill="none"/>
<polygon points="568.0,1426.0 720.0,1466.0 772.0,1470.0 760.0,1510.0 560.0,1510.0 540.0,1440.0" fill="#3a393d"/>
<polygon points="780.0,1416.0 804.0,1410.0 820.0,1430.0 780.0,1474.0 772.0,1470.0" fill="#2c2b2e"/>
<polygon points="814.0,1264.0 840.0,1274.0 840.0,1356.0 814.0,1358.0" fill="#a9474f"/>
<polygon points="814.0,1350.0 840.0,1350.0 840.0,1390.0 808.0,1372.0" fill="#7e3138"/>
<polygon points="788.0,1340.0 810.0,1344.0 810.0,1352.4 790.0,1351.0" fill="#b9bcc2"/>
<circle cx="823.0" cy="1367.0" r="3.6" fill="#c9ccd1" stroke="#6d7076" stroke-width="0.8"/>
<polygon points="516.0,1250.0 540.0,1252.6 546.8,1253.0 607.4,1256.8 645.0,1266.0 680.0,1276.8 720.0,1288.8 750.0,1304.0 766.0,1315.0 776.0,1330.0 788.0,1356.0 800.0,1382.0 813.0,1407.0 808.0,1411.0 780.0,1400.0 756.0,1394.0 720.0,1383.8 695.0,1376.2 667.4,1370.6 645.0,1362.4 615.0,1355.6 582.4,1351.8 557.4,1349.4 542.0,1346.0 516.0,1342.0" fill="url(#c5lid)"/>
<polygon points="516.0,1285.0 526.2,1286.4 607.4,1296.4 670.0,1312.6 720.0,1328.8 760.0,1346.0 786.0,1363.0 800.0,1382.0 813.0,1407.0 808.0,1411.0 780.0,1400.0 756.0,1394.0 720.0,1383.8 695.0,1376.2 667.4,1370.6 645.0,1362.4 615.0,1355.6 582.4,1351.8 557.4,1349.4 542.0,1346.0 516.0,1342.0" fill="#c9502a" opacity="0.9"/>
<polygon points="575.0,1303.2 590.0,1317.4 597.4,1310.0" fill="#b2451f" opacity="0.85"/>
<polygon points="632.4,1313.8 646.2,1330.0 655.0,1320.0" fill="#b2451f" opacity="0.85"/>
<polygon points="600.0,1340.0 616.2,1356.2 623.8,1346.2" fill="#b2451f" opacity="0.85"/>
<polygon points="655.0,1353.8 668.8,1371.2 677.4,1360.0" fill="#b2451f" opacity="0.85"/>
<polygon points="706.0,1346.0 724.0,1376.0 740.0,1356.0" fill="#b2451f" opacity="0.85"/>
<polygon points="754.0,1360.0 770.0,1388.0 784.0,1370.0" fill="#b2451f" opacity="0.85"/>
<polygon points="532.0,1298.0 544.0,1314.0 554.0,1304.0" fill="#b2451f" opacity="0.85"/>
<polygon points="692.0,1326.0 706.0,1342.0 716.0,1332.0" fill="#b2451f" opacity="0.85"/>
<polygon points="516.0,1250.0 540.0,1252.6 546.8,1253.0 607.4,1256.8 645.0,1266.0 680.0,1276.8 720.0,1288.8 750.0,1304.0 766.0,1315.0 776.0,1330.0 774.0,1328.0 760.0,1319.0 720.0,1305.0 676.2,1297.4 645.0,1290.0 607.4,1281.2 536.2,1278.2 516.0,1278.0" fill="#e2552c"/>
<path d="M536.2,1278.2 C548.1,1278.7 589.3,1279.2 607.4,1281.2 C625.5,1283.2 633.5,1287.3 645.0,1290.0 C656.5,1292.7 663.7,1294.9 676.2,1297.4 C688.7,1299.9 712.7,1303.7 720.0,1305.0" stroke="#4a1a0e" stroke-width="1.8" fill="none"/>
<polygon points="532.0,1276.0 542.0,1277.2 541.0,1279.6 532.0,1279.0" fill="#e9e1dc"/>
<polygon points="542.4,1336.0 557.4,1336.0 560.0,1368.0 544.0,1370.0 532.0,1358.0" fill="#151416"/>
</g>
<!-- 46_c6.svg -->
<defs>
  <linearGradient id="c6in" x1="0" y1="1120" x2="0" y2="1235" gradientUnits="userSpaceOnUse">
    <stop offset="0" stop-color="#aab0b8"/><stop offset="0.55" stop-color="#b4b9c0"/><stop offset="0.8" stop-color="#969ca4"/><stop offset="1" stop-color="#70767e"/>
  </linearGradient>
  <linearGradient id="c6side" x1="385" y1="1110" x2="480" y2="1320" gradientUnits="userSpaceOnUse">
    <stop offset="0" stop-color="#c2c8d0"/><stop offset="0.6" stop-color="#cbd0d7"/><stop offset="1" stop-color="#d4d8dd"/>
  </linearGradient>
  <linearGradient id="c6floor" x1="0" y1="1320" x2="0" y2="1425" gradientUnits="userSpaceOnUse">
    <stop offset="0" stop-color="#cdced1"/><stop offset="1" stop-color="#e7e8ea"/>
  </linearGradient>
  <linearGradient id="c6lid" x1="180" y1="1250" x2="380" y2="1310" gradientUnits="userSpaceOnUse">
    <stop offset="0" stop-color="#e65c20"/><stop offset="1" stop-color="#dd531f"/>
  </linearGradient>
</defs>
<g clip-path="url(#clipC6)">
<rect x="165" y="1105" width="325" height="325" fill="url(#c6floor)"/>
<polygon points="166.0,1102.0 386.0,1102.0 386.0,1286.0 166.0,1226.0" fill="#c8cdd4"/>
<polygon points="166.0,1162.0 212.0,1172.0 212.0,1194.0 166.0,1186.0" fill="#b7bcc3"/>
<polygon points="166.0,1186.0 212.0,1194.0 212.4,1230.0 166.0,1216.0" fill="#1f1f22"/>
<polygon points="223.0,1149.0 370.0,1118.0 372.4,1215.0 278.0,1235.0 224.0,1219.0" fill="url(#c6in)"/>
<polygon points="224.0,1219.0 278.0,1235.0 372.4,1215.0 373.0,1274.0 224.0,1234.0" fill="#202023"/>
<polygon points="278.0,1233.6 372.4,1213.6 372.4,1216.4 279.0,1236.4" fill="#c3c7cd"/>
<polygon points="306.0,1246.0 372.4,1230.0 372.4,1242.0 326.0,1253.0" fill="#3a3c41"/>
<polygon points="211.0,1145.0 223.0,1148.4 224.4,1235.0 212.4,1231.0" fill="#d3d7dc"/>
<polygon points="221.0,1148.0 223.0,1148.4 224.4,1235.0 222.6,1234.4" fill="#a6acb4"/>
<polygon points="385.0,1102.0 506.0,1102.0 506.0,1284.0 388.4,1321.6" fill="url(#c6side)"/>
<polygon points="370.0,1102.0 385.0,1102.0 388.4,1321.6 374.0,1273.0" fill="#c7ccd3"/>
<polygon points="382.4,1102.0 385.0,1102.0 388.4,1321.6 386.0,1314.0" fill="#e2e5e9"/>
<polygon points="370.0,1102.0 372.4,1102.0 376.0,1280.0 374.0,1273.0" fill="#aeb4bb"/>
<circle cx="394.6" cy="1255.0" r="1.9" fill="#33353a"/>
<polygon points="166.0,1213.6 374.0,1272.4 378.4,1291.0 166.0,1231.0" fill="#c58d95"/>
<polygon points="166.0,1213.6 374.0,1272.4 374.6,1276.0 166.0,1217.2" fill="#dde0e4"/>
<polygon points="166.0,1225.0 377.0,1285.0 378.4,1291.0 166.0,1231.0" fill="#b0636c"/>
<polygon points="166.0,1231.0 378.4,1291.0 388.4,1321.6 378.0,1308.4 378.0,1294.0 166.0,1244.0" fill="#19191b"/>
<circle cx="217.6" cy="1238.0" r="3.6" fill="#dadde1" stroke="#777c83" stroke-width="0.8"/>
<circle cx="379.6" cy="1279.6" r="3.6" fill="#dadde1" stroke="#777c83" stroke-width="0.8"/>
<path d="M166.0,1310.0 L266.0,1328.0 L306.0,1326.0 L346.0,1314.0 L378.0,1306.0 L388.4,1320.0 L506.0,1283.0 L506.0,1295.0 L388.0,1332.0 L353.0,1344.0 Q353.0,1370.0 306.0,1390.0 L294.0,1388.0 L166.0,1357.0 Z" fill="#2b292b"/>
<polygon points="353.0,1344.0 388.0,1332.0 506.0,1295.0 506.0,1301.0 389.6,1338.0 355.0,1349.6" fill="#222123"/>
<path d="M166.0,1244.0 L378.0,1294.0 L378.0,1308.4 L378.0,1308.4 C372.7,1309.7 358.0,1313.1 346.0,1316.4 C334.0,1319.7 319.3,1326.1 306.0,1328.4 C292.7,1330.7 289.3,1333.1 266.0,1330.4 C242.7,1327.7 182.7,1315.4 166.0,1312.4 Z" fill="url(#c6lid)"/>
<path d="M378.0,1301.0 C372.7,1302.0 358.0,1304.1 346.0,1307.0 C334.0,1309.9 319.3,1316.1 306.0,1318.4 C292.7,1320.7 289.3,1323.6 266.0,1321.0 C242.7,1318.4 182.7,1306.0 166.0,1303.0 L166.0,1312.4 C182.7,1315.4 242.7,1327.7 266.0,1330.4 C289.3,1333.1 292.7,1330.7 306.0,1328.4 C319.3,1326.1 334.0,1319.7 346.0,1316.4 C358.0,1313.1 372.7,1309.7 378.0,1308.4 Z" fill="#ec7333"/>
<path d="M378.0,1301.0 C372.7,1302.0 358.0,1304.1 346.0,1307.0 C334.0,1309.9 319.3,1316.1 306.0,1318.4 C292.7,1320.7 289.3,1323.6 266.0,1321.0 C242.7,1318.4 182.7,1306.0 166.0,1303.0" stroke="#f6a06a" stroke-width="1.6" fill="none" opacity="0.8"/>
<path d="M166.0,1254.0 L366.0,1301.0" stroke="#f4a070" stroke-width="1.6" opacity="0.80" fill="none"/>
<path d="M166.0,1260.0 L346.0,1303.0" stroke="#c4441a" stroke-width="1.6" opacity="0.70" fill="none"/>
<path d="M166.0,1269.0 L326.0,1307.0" stroke="#f4a070" stroke-width="1.6" opacity="0.80" fill="none"/>
<path d="M166.0,1276.0 L306.0,1310.0" stroke="#c4441a" stroke-width="1.6" opacity="0.70" fill="none"/>
<path d="M166.0,1285.0 L286.0,1314.0" stroke="#f4a070" stroke-width="1.4" opacity="0.70" fill="none"/>
</g>
<!-- 80_circles_border.svg -->
<g fill="none" stroke="#b82a2a" stroke-width="2.2">
  <circle cx="1014.7" cy="343.8" r="155.8"/><circle cx="1231" cy="631" r="155.8"/><circle cx="1236.6" cy="978.3" r="155.8"/>
  <circle cx="1018" cy="1237" r="155.8"/><circle cx="680" cy="1329" r="155.8"/><circle cx="326" cy="1266" r="155.8"/>
</g>

<!-- 90_labels.svg -->
<g font-family="'DejaVu Sans','Liberation Sans',sans-serif" font-size="32" fill="#0b0b0b" stroke="#0b0b0b" stroke-width="0.5" stroke-linejoin="round">
  <text><tspan x="1200.0" y="303.7" textLength="243.0" lengthAdjust="spacingAndGlyphs">Weatherproof</tspan> <tspan x="1199.0" y="343.3" textLength="191.1" lengthAdjust="spacingAndGlyphs">galvanized</tspan> <tspan x="1199.0" y="383.0" textLength="319.1" lengthAdjust="spacingAndGlyphs">steel construction</tspan></text>
  <text><tspan x="1409.0" y="604.6" textLength="130.8" lengthAdjust="spacingAndGlyphs">Private,</tspan> <tspan x="1408.0" y="644.2" textLength="105.1" lengthAdjust="spacingAndGlyphs">safe &amp;</tspan> <tspan x="1408.0" y="684.4" textLength="166.2" lengthAdjust="spacingAndGlyphs">sheltered</tspan> <tspan x="1408.5" y="724.3" textLength="131.9" lengthAdjust="spacingAndGlyphs">nesting</tspan></text>
  <text><tspan x="1410.0" y="903.7" textLength="97.4" lengthAdjust="spacingAndGlyphs">2-in-1</tspan> <tspan x="1409.0" y="943.3" textLength="123.1" lengthAdjust="spacingAndGlyphs">handle</tspan> <tspan x="1410.0" y="983.2" textLength="80.2" lengthAdjust="spacingAndGlyphs">with</tspan> <tspan x="1409.0" y="1023.5" textLength="146.3" lengthAdjust="spacingAndGlyphs">roosting</tspan> <tspan x="1409.0" y="1063.5" textLength="102.3" lengthAdjust="spacingAndGlyphs">perch</tspan></text>
  <text><tspan x="1195.0" y="1264.4" textLength="214.1" lengthAdjust="spacingAndGlyphs">Well-vented</tspan> <tspan x="1195.0" y="1304.2" textLength="199.0" lengthAdjust="spacingAndGlyphs">side panels</tspan></text>
  <text><tspan x="815.5" y="1458.4" textLength="198.5" lengthAdjust="spacingAndGlyphs">Removable</tspan> <tspan x="815.0" y="1498.2" textLength="324.1" lengthAdjust="spacingAndGlyphs">rollaway trayswith</tspan> <tspan x="815.5" y="1538.3" textLength="187.7" lengthAdjust="spacingAndGlyphs">classic lids</tspan></text>
  <text><tspan x="207.4" y="1477.6" textLength="223.8" lengthAdjust="spacingAndGlyphs">Quick &amp; easy</tspan> <tspan x="209.0" y="1517.2" textLength="211.6" lengthAdjust="spacingAndGlyphs">to assemble</tspan></text>
</g>

</svg>
</body></html>
